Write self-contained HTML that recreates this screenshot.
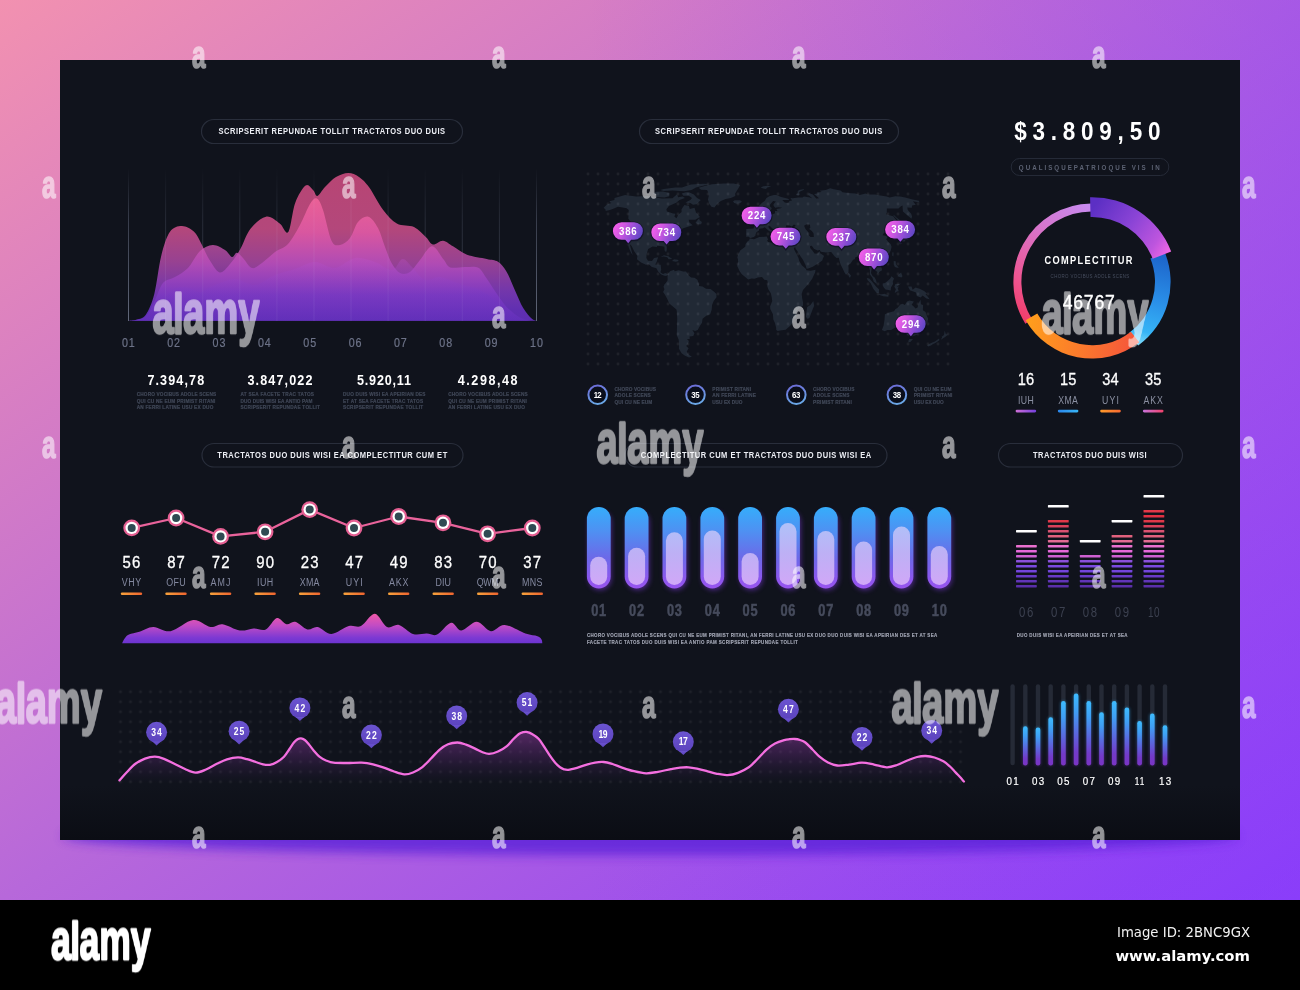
<!DOCTYPE html>
<html lang="en"><head><meta charset="utf-8"><title>Dashboard infographic</title>
<style>
html,body{margin:0;padding:0;background:#000}
body{width:1300px;height:990px;overflow:hidden;position:relative;font-family:"Liberation Sans",sans-serif}
#bg{position:absolute;left:0;top:0;width:1300px;height:900px;background:linear-gradient(to right,rgba(138,61,250,0) 45%,rgba(138,61,250,0.36) 100%),linear-gradient(to bottom right,#f291b0 0%,#b768da 50%,#8a3dfa 100%)}
#foot{position:absolute;left:0;top:900px;width:1300px;height:90px;background:#000}
svg{position:absolute;left:0;top:0;will-change:transform;font-family:"Liberation Sans",sans-serif}
svg text{white-space:pre}
</style></head><body>
<div id="bg"></div><div id="foot"></div>
<svg width="1300" height="990" viewBox="0 0 1300 990">
<!-- defs -->
<defs>
<filter id="blur8" x="-10%" y="-200%" width="120%" height="500%"><feGaussianBlur stdDeviation="5.5"/></filter>
<linearGradient id="panelg" x1="0" y1="0" x2="0" y2="1"><stop offset="0" stop-color="#10131c"/><stop offset="0.93" stop-color="#10131c"/><stop offset="1" stop-color="#0b0d14"/></linearGradient>
</defs>
<!-- panel -->
<ellipse cx="650" cy="836" rx="588" ry="19" fill="#5a24d8" opacity="0.8" filter="url(#blur8)"/>
<rect x="60" y="60" width="1180" height="780" fill="url(#panelg)"/>
<!-- pills -->
<rect x="201.5" y="119.5" width="261.0" height="24.0" rx="12.5" fill="none" stroke="#292e3b" stroke-width="1.2"/>
<text transform="translate(218.50 134.30) scale(0.8000 1)" font-size="9.4" fill="#eceef4" font-weight="bold" letter-spacing="0.658">SCRIPSERIT REPUNDAE TOLLIT TRACTATOS DUO DUIS</text>
<rect x="639.5" y="119.5" width="259.0" height="24.0" rx="12.5" fill="none" stroke="#292e3b" stroke-width="1.2"/>
<text transform="translate(655.00 134.30) scale(0.8000 1)" font-size="9.4" fill="#eceef4" font-weight="bold" letter-spacing="0.675">SCRIPSERIT REPUNDAE TOLLIT TRACTATOS DUO DUIS</text>
<rect x="202.0" y="443.5" width="261.0" height="23.5" rx="12.2" fill="none" stroke="#292e3b" stroke-width="1.2"/>
<text transform="translate(217.30 458.05) scale(0.8000 1)" font-size="9.4" fill="#eceef4" font-weight="bold" letter-spacing="0.635">TRACTATOS DUO DUIS WISI EA COMPLECTITUR CUM ET</text>
<rect x="625.0" y="443.5" width="262.0" height="23.5" rx="12.2" fill="none" stroke="#292e3b" stroke-width="1.2"/>
<text transform="translate(640.80 458.05) scale(0.8000 1)" font-size="9.4" fill="#eceef4" font-weight="bold" letter-spacing="0.641">COMPLECTITUR CUM ET TRACTATOS DUO DUIS WISI EA</text>
<rect x="998.5" y="443.5" width="184.0" height="23.5" rx="12.2" fill="none" stroke="#292e3b" stroke-width="1.2"/>
<text transform="translate(1033.00 458.05) scale(0.8000 1)" font-size="9.4" fill="#eceef4" font-weight="bold" letter-spacing="0.650">TRACTATOS DUO DUIS WISI</text>

<!-- chart1 -->
<defs>
<linearGradient id="c1a" gradientUnits="userSpaceOnUse" x1="0" y1="172" x2="0" y2="321"><stop offset="0" stop-color="#c4497a"/><stop offset="0.38" stop-color="#c04b82"/><stop offset="0.6" stop-color="#a2459a"/><stop offset="0.8" stop-color="#7a39b6"/><stop offset="0.93" stop-color="#6631bd"/><stop offset="1" stop-color="#6330bb"/></linearGradient>
<linearGradient id="c1b" gradientUnits="userSpaceOnUse" x1="0" y1="195" x2="0" y2="321"><stop offset="0" stop-color="#ff6ba0"/><stop offset="0.3" stop-color="#e65cac"/><stop offset="0.55" stop-color="#b84ec0"/><stop offset="0.8" stop-color="#7e3ac6"/><stop offset="1" stop-color="#6330bb"/></linearGradient>
<linearGradient id="c1c" gradientUnits="userSpaceOnUse" x1="0" y1="255" x2="0" y2="321"><stop offset="0" stop-color="#c455c8"/><stop offset="0.6" stop-color="#7638c3"/><stop offset="1" stop-color="#6330bb"/></linearGradient>
<linearGradient id="vl" gradientUnits="userSpaceOnUse" x1="0" y1="168" x2="0" y2="321"><stop offset="0" stop-color="#596073" stop-opacity="0"/><stop offset="0.35" stop-color="#596073" stop-opacity="0.55"/><stop offset="1" stop-color="#6b7285" stop-opacity="0.9"/></linearGradient>
</defs>
<rect x="128.0" y="168" width="1" height="153" fill="url(#vl)" opacity="1.00"/><rect x="165.1" y="168" width="1" height="153" fill="url(#vl)" opacity="0.55"/><rect x="202.2" y="168" width="1" height="153" fill="url(#vl)" opacity="0.55"/><rect x="239.3" y="168" width="1" height="153" fill="url(#vl)" opacity="0.55"/><rect x="276.4" y="168" width="1" height="153" fill="url(#vl)" opacity="0.55"/><rect x="313.5" y="168" width="1" height="153" fill="url(#vl)" opacity="0.55"/><rect x="350.5" y="168" width="1" height="153" fill="url(#vl)" opacity="0.55"/><rect x="387.6" y="168" width="1" height="153" fill="url(#vl)" opacity="0.55"/><rect x="424.7" y="168" width="1" height="153" fill="url(#vl)" opacity="0.55"/><rect x="461.8" y="168" width="1" height="153" fill="url(#vl)" opacity="0.55"/><rect x="498.9" y="168" width="1" height="153" fill="url(#vl)" opacity="0.55"/><rect x="536.0" y="168" width="1" height="153" fill="url(#vl)" opacity="1.00"/>
<path d="M128.5,320.8C130.1,320.6 135.1,320.4 138.0,319.3C140.9,318.2 143.3,318.7 146.0,314.5C148.7,310.3 151.8,303.8 154.3,294.0C156.8,284.2 158.6,266.3 161.2,256.0C163.8,245.7 166.4,237.0 169.8,232.0C173.2,227.0 177.8,226.1 181.8,226.0C185.8,225.9 190.7,228.8 193.8,231.5C197.0,234.2 198.1,237.7 200.7,242.4C203.3,247.1 206.2,254.6 209.3,259.6C212.5,264.6 216.2,271.8 219.6,272.5C223.0,273.2 226.6,267.9 230.0,264.0C233.4,260.1 236.8,255.2 240.2,249.3C243.6,243.4 246.2,234.1 250.5,228.7C254.8,223.3 261.1,217.6 266.0,216.7C270.9,215.8 276.0,220.9 279.7,223.5C283.4,226.1 285.7,235.4 288.3,232.0C290.9,228.6 292.3,210.7 295.2,203.0C298.1,195.3 302.6,187.8 305.6,185.6C308.6,183.4 311.0,188.3 313.0,190.0C315.0,191.7 315.4,196.5 317.4,196.0C319.4,195.5 321.9,190.2 325.0,187.0C328.1,183.8 332.1,179.3 336.0,177.0C339.9,174.7 344.5,173.0 348.3,173.0C352.1,173.0 355.5,174.6 359.0,177.0C362.5,179.4 365.3,182.0 369.3,187.5C373.3,193.0 378.4,203.8 383.0,209.8C387.6,215.8 391.6,220.6 396.8,223.5C402.0,226.4 409.1,224.7 414.0,227.0C418.9,229.3 422.9,234.4 426.0,237.3C429.1,240.2 430.0,243.9 432.8,244.5C435.6,245.1 439.6,240.4 443.0,240.7C446.4,241.0 449.0,244.0 453.0,246.3C457.0,248.7 461.4,252.7 467.0,254.8C472.6,256.9 481.5,257.8 486.7,259.0C491.9,260.2 494.7,259.7 498.0,261.8C501.3,263.9 503.6,266.9 506.4,271.6C509.2,276.3 512.0,283.8 514.8,289.9C517.6,296.0 520.4,303.3 523.2,308.1C526.0,312.9 529.4,316.5 531.6,318.6C533.8,320.7 535.7,320.4 536.5,320.8Z" fill="url(#c1a)" opacity="0.93"/>
<path d="M128.5,320.8C131.2,320.2 140.6,320.5 145.0,317.0C149.4,313.5 152.0,305.7 155.0,300.0C158.0,294.3 159.7,286.8 163.0,283.0C166.3,279.2 170.8,279.5 175.0,277.0C179.2,274.5 183.8,272.3 188.0,268.0C192.2,263.7 195.9,254.8 200.0,251.0C204.1,247.2 208.5,245.2 212.7,245.0C216.9,244.8 221.8,248.0 225.0,250.0C228.2,252.0 230.0,256.6 232.0,257.0C234.0,257.4 235.0,252.5 236.8,252.7C238.6,252.9 240.5,255.4 243.0,258.0C245.5,260.6 248.8,267.2 252.0,268.0C255.2,268.8 258.2,265.7 262.0,263.0C265.8,260.3 270.7,255.2 275.0,252.0C279.3,248.8 283.8,248.5 288.0,244.0C292.2,239.5 296.3,231.7 300.0,225.0C303.7,218.3 307.2,208.4 310.0,204.0C312.8,199.6 314.7,197.6 316.9,198.6C319.1,199.6 320.6,203.0 323.0,210.0C325.4,217.0 328.7,234.9 331.5,240.7C334.3,246.5 336.9,245.4 340.0,245.0C343.1,244.6 347.0,241.8 350.0,238.0C353.0,234.2 354.9,225.6 358.0,222.0C361.1,218.4 365.1,215.7 368.4,216.7C371.7,217.7 375.2,222.9 378.0,228.0C380.8,233.1 382.7,241.2 385.0,247.0C387.3,252.8 389.1,258.7 391.6,263.0C394.1,267.3 396.9,271.5 400.0,273.0C403.1,274.5 406.7,274.2 410.0,272.0C413.3,269.8 416.3,264.3 420.0,260.0C423.7,255.7 428.1,246.5 432.0,246.3C435.9,246.1 440.2,255.5 443.2,259.0C446.2,262.5 446.6,266.1 450.2,267.4C453.8,268.7 460.3,266.9 465.0,267.0C469.7,267.1 474.7,265.9 478.3,267.8C481.9,269.7 483.9,274.7 486.7,278.6C489.5,282.5 491.8,286.6 495.1,291.3C498.4,296.0 502.2,302.2 506.4,306.7C510.6,311.1 516.2,315.6 520.4,318.0C524.6,320.4 529.7,320.3 531.6,320.8Z" fill="url(#c1b)" opacity="0.74"/>
<path d="M128.5,320.8C132.1,320.2 144.4,320.1 150.0,317.0C155.6,313.9 158.3,306.5 162.0,302.0C165.7,297.5 168.2,292.5 172.0,290.0C175.8,287.5 180.3,286.7 185.0,287.0C189.7,287.3 195.0,292.3 200.0,292.0C205.0,291.7 209.2,287.2 215.0,285.0C220.8,282.8 228.3,279.0 235.0,279.0C241.7,279.0 248.3,285.7 255.0,285.0C261.7,284.3 268.3,277.7 275.0,275.0C281.7,272.3 288.3,271.2 295.0,269.0C301.7,266.8 308.3,262.2 315.0,262.0C321.7,261.8 328.3,268.7 335.0,268.0C341.7,267.3 348.3,259.0 355.0,258.0C361.7,257.0 368.8,260.0 375.0,262.0C381.2,264.0 387.4,270.5 392.0,270.0C396.6,269.5 399.2,259.5 402.5,259.0C405.8,258.5 408.2,263.5 412.0,267.0C415.8,270.5 420.3,278.3 425.0,280.0C429.7,281.7 434.2,276.3 440.0,277.0C445.8,277.7 453.3,281.8 460.0,284.0C466.7,286.2 474.2,287.3 480.0,290.0C485.8,292.7 490.0,296.3 495.0,300.0C500.0,303.7 505.0,308.8 510.0,312.0C515.0,315.2 520.6,317.5 525.0,319.0C529.4,320.5 534.6,320.5 536.5,320.8Z" fill="url(#c1c)" opacity="0.32"/>
<clipPath id="c1clip"><path d="M128.5,320.8C130.1,320.6 135.1,320.4 138.0,319.3C140.9,318.2 143.3,318.7 146.0,314.5C148.7,310.3 151.8,303.8 154.3,294.0C156.8,284.2 158.6,266.3 161.2,256.0C163.8,245.7 166.4,237.0 169.8,232.0C173.2,227.0 177.8,226.1 181.8,226.0C185.8,225.9 190.7,228.8 193.8,231.5C197.0,234.2 198.1,237.7 200.7,242.4C203.3,247.1 206.2,254.6 209.3,259.6C212.5,264.6 216.2,271.8 219.6,272.5C223.0,273.2 226.6,267.9 230.0,264.0C233.4,260.1 236.8,255.2 240.2,249.3C243.6,243.4 246.2,234.1 250.5,228.7C254.8,223.3 261.1,217.6 266.0,216.7C270.9,215.8 276.0,220.9 279.7,223.5C283.4,226.1 285.7,235.4 288.3,232.0C290.9,228.6 292.3,210.7 295.2,203.0C298.1,195.3 302.6,187.8 305.6,185.6C308.6,183.4 311.0,188.3 313.0,190.0C315.0,191.7 315.4,196.5 317.4,196.0C319.4,195.5 321.9,190.2 325.0,187.0C328.1,183.8 332.1,179.3 336.0,177.0C339.9,174.7 344.5,173.0 348.3,173.0C352.1,173.0 355.5,174.6 359.0,177.0C362.5,179.4 365.3,182.0 369.3,187.5C373.3,193.0 378.4,203.8 383.0,209.8C387.6,215.8 391.6,220.6 396.8,223.5C402.0,226.4 409.1,224.7 414.0,227.0C418.9,229.3 422.9,234.4 426.0,237.3C429.1,240.2 430.0,243.9 432.8,244.5C435.6,245.1 439.6,240.4 443.0,240.7C446.4,241.0 449.0,244.0 453.0,246.3C457.0,248.7 461.4,252.7 467.0,254.8C472.6,256.9 481.5,257.8 486.7,259.0C491.9,260.2 494.7,259.7 498.0,261.8C501.3,263.9 503.6,266.9 506.4,271.6C509.2,276.3 512.0,283.8 514.8,289.9C517.6,296.0 520.4,303.3 523.2,308.1C526.0,312.9 529.4,316.5 531.6,318.6C533.8,320.7 535.7,320.4 536.5,320.8Z"/></clipPath><g clip-path="url(#c1clip)"><rect x="165.1" y="172" width="1" height="149" fill="#d8dcf0" opacity="0.075"/><rect x="202.2" y="172" width="1" height="149" fill="#d8dcf0" opacity="0.075"/><rect x="239.3" y="172" width="1" height="149" fill="#d8dcf0" opacity="0.075"/><rect x="276.4" y="172" width="1" height="149" fill="#d8dcf0" opacity="0.075"/><rect x="313.5" y="172" width="1" height="149" fill="#d8dcf0" opacity="0.075"/><rect x="350.5" y="172" width="1" height="149" fill="#d8dcf0" opacity="0.075"/><rect x="387.6" y="172" width="1" height="149" fill="#d8dcf0" opacity="0.075"/><rect x="424.7" y="172" width="1" height="149" fill="#d8dcf0" opacity="0.075"/><rect x="461.8" y="172" width="1" height="149" fill="#d8dcf0" opacity="0.075"/><rect x="498.9" y="172" width="1" height="149" fill="#d8dcf0" opacity="0.075"/></g>
<text transform="translate(121.90 347.30) scale(0.8800 1)" font-size="12.2" fill="#6d7388" letter-spacing="0.975" stroke="#6d7388" stroke-width="0.2">01</text><text transform="translate(167.25 347.30) scale(0.8800 1)" font-size="12.2" fill="#6d7388" letter-spacing="0.975" stroke="#6d7388" stroke-width="0.2">02</text><text transform="translate(212.60 347.30) scale(0.8800 1)" font-size="12.2" fill="#6d7388" letter-spacing="0.975" stroke="#6d7388" stroke-width="0.2">03</text><text transform="translate(257.95 347.30) scale(0.8800 1)" font-size="12.2" fill="#6d7388" letter-spacing="0.975" stroke="#6d7388" stroke-width="0.2">04</text><text transform="translate(303.30 347.30) scale(0.8800 1)" font-size="12.2" fill="#6d7388" letter-spacing="0.975" stroke="#6d7388" stroke-width="0.2">05</text><text transform="translate(348.65 347.30) scale(0.8800 1)" font-size="12.2" fill="#6d7388" letter-spacing="0.975" stroke="#6d7388" stroke-width="0.2">06</text><text transform="translate(394.00 347.30) scale(0.8800 1)" font-size="12.2" fill="#6d7388" letter-spacing="0.975" stroke="#6d7388" stroke-width="0.2">07</text><text transform="translate(439.35 347.30) scale(0.8800 1)" font-size="12.2" fill="#6d7388" letter-spacing="0.975" stroke="#6d7388" stroke-width="0.2">08</text><text transform="translate(484.70 347.30) scale(0.8800 1)" font-size="12.2" fill="#6d7388" letter-spacing="0.975" stroke="#6d7388" stroke-width="0.2">09</text><text transform="translate(530.05 347.30) scale(0.8800 1)" font-size="12.2" fill="#6d7388" letter-spacing="0.975" stroke="#6d7388" stroke-width="0.2">10</text>
<text transform="translate(147.40 384.80) scale(0.9000 1)" font-size="14.0" fill="#ffffff" font-weight="bold" letter-spacing="1.231">7.394,78</text><text transform="translate(136.70 396.30) scale(0.8000 1)" font-size="5.9" fill="#414858" font-weight="bold" letter-spacing="0.208" stroke="#414858" stroke-width="0.22">CHORO VOCIBUS ADOLE SCENS</text><text transform="translate(136.70 402.85) scale(0.8000 1)" font-size="5.9" fill="#414858" font-weight="bold" letter-spacing="0.258" stroke="#414858" stroke-width="0.22">QUI CU NE EUM PRIMIST RITANI</text><text transform="translate(136.70 409.40) scale(0.8000 1)" font-size="5.9" fill="#414858" font-weight="bold" letter-spacing="0.291" stroke="#414858" stroke-width="0.22">AN FERRI LATINE USU EX DUO</text>
<text transform="translate(247.50 384.80) scale(0.9000 1)" font-size="14.0" fill="#ffffff" font-weight="bold" letter-spacing="1.242">3.847,022</text><text transform="translate(240.50 396.30) scale(0.8000 1)" font-size="5.9" fill="#414858" font-weight="bold" letter-spacing="0.328" stroke="#414858" stroke-width="0.22">AT SEA FACETE TRAC TATOS</text><text transform="translate(240.50 402.85) scale(0.8000 1)" font-size="5.9" fill="#414858" font-weight="bold" letter-spacing="0.121" stroke="#414858" stroke-width="0.22">DUO DUIS WISI EA ANTIO PAM</text><text transform="translate(240.50 409.40) scale(0.8000 1)" font-size="5.9" fill="#414858" font-weight="bold" letter-spacing="0.287" stroke="#414858" stroke-width="0.22">SCRIPSERIT REPUNDAE TOLLIT</text>
<text transform="translate(357.00 384.80) scale(0.9000 1)" font-size="14.0" fill="#ffffff" font-weight="bold" letter-spacing="0.896">5.920,11</text><text transform="translate(343.00 396.30) scale(0.8000 1)" font-size="5.9" fill="#414858" font-weight="bold" letter-spacing="0.254" stroke="#414858" stroke-width="0.22">DUO DUIS WISI EA APEIRIAN DES</text><text transform="translate(343.00 402.85) scale(0.8000 1)" font-size="5.9" fill="#414858" font-weight="bold" letter-spacing="0.263" stroke="#414858" stroke-width="0.22">ET AT SEA FACETE TRAC TATOS</text><text transform="translate(343.00 409.40) scale(0.8000 1)" font-size="5.9" fill="#414858" font-weight="bold" letter-spacing="0.322" stroke="#414858" stroke-width="0.22">SCRIPSERIT REPUNDAE TOLLIT</text>
<text transform="translate(457.70 384.80) scale(0.9000 1)" font-size="14.0" fill="#ffffff" font-weight="bold" letter-spacing="1.738">4.298,48</text><text transform="translate(448.20 396.30) scale(0.8000 1)" font-size="5.9" fill="#414858" font-weight="bold" letter-spacing="0.208" stroke="#414858" stroke-width="0.22">CHORO VOCIBUS ADOLE SCENS</text><text transform="translate(448.20 402.85) scale(0.8000 1)" font-size="5.9" fill="#414858" font-weight="bold" letter-spacing="0.258" stroke="#414858" stroke-width="0.22">QUI CU NE EUM PRIMIST RITANI</text><text transform="translate(448.20 409.40) scale(0.8000 1)" font-size="5.9" fill="#414858" font-weight="bold" letter-spacing="0.291" stroke="#414858" stroke-width="0.22">AN FERRI LATINE USU EX DUO</text>

<!-- worldmap -->
<g fill="#212935"><path d="M609.5,201.2L614.4,200.1L614.5,198.1L625.1,194.9L636.2,196.4L647.5,196.0L655.2,197.5L662.0,198.4L672.4,198.2L677.1,194.3L678.1,197.3L682.7,196.6L684.9,197.9L679.6,200.1L676.2,202.8L668.9,205.9L666.4,209.2L667.0,211.4L673.1,213.4L675.5,213.8L674.4,216.6L676.4,218.2L678.6,214.4L681.6,212.0L681.5,209.2L684.4,205.0L688.9,205.9L689.8,208.9L694.5,207.7L696.0,212.6L700.0,216.9L695.2,219.8L688.7,219.8L689.4,222.4L692.8,225.2L687.1,227.1L682.6,228.4L681.5,230.6L677.3,232.3L674.7,236.2L673.4,239.5L669.5,242.1L666.8,244.7L666.8,250.0L666.1,252.2L664.6,250.6L664.4,246.7L662.0,246.3L657.1,245.8L656.9,247.1L652.6,246.4L648.2,248.9L646.6,253.9L646.4,257.9L648.0,260.7L652.0,261.0L654.1,257.9L658.1,257.2L656.7,261.8L655.2,264.5L660.7,264.7L661.2,269.7L660.4,272.3L663.0,273.9L665.3,272.9L667.8,274.3L666.3,276.0L664.3,275.8L661.2,274.6L658.1,271.6L656.4,268.3L651.9,267.0L648.8,264.2L645.9,264.7L641.0,262.4L636.9,259.2L637.4,255.9L634.2,251.3L631.6,246.1L629.7,244.1L630.7,247.4L632.2,253.3L632.6,255.2L630.7,252.0L628.9,248.0L627.6,242.8L624.7,240.2L624.4,236.9L624.2,232.3L628.0,225.2L630.8,222.0L628.3,218.8L628.5,214.4L628.7,210.1L626.6,208.3L621.1,207.3L618.0,206.8L613.9,208.6L610.0,210.1L605.7,211.1L605.5,209.4L603.6,207.7L606.6,204.8L611.4,203.0L610.0,202.3ZM698.7,187.8L705.4,185.7L712.0,184.3L723.5,183.5L733.7,183.5L740.3,184.9L738.6,188.0L736.7,190.9L735.2,193.5L735.3,195.9L730.9,198.1L725.6,199.0L720.9,201.0L717.6,203.6L714.4,207.5L711.4,206.8L709.2,203.6L707.9,199.6L708.7,196.2L708.5,193.0L707.0,189.9L701.0,189.7ZM689.7,192.5L693.9,194.6L697.1,197.9L700.8,200.0L696.4,204.2L693.0,204.8L690.3,203.0L685.3,202.4L690.4,200.1L692.0,197.9L688.7,195.7L683.4,195.7L681.7,193.5L685.9,192.3ZM652.8,193.5L656.0,191.7L663.0,191.4L669.4,193.0L669.3,196.2L664.5,197.5L656.5,197.0L656.1,194.9ZM679.1,190.9L684.3,191.3L691.6,189.9L696.0,187.5L704.1,185.4L709.4,184.1L702.9,183.7L691.0,184.5L686.9,185.7L682.0,187.5L675.3,187.5L663.8,188.9L660.2,189.9L663.6,190.9L672.7,190.4ZM695.4,223.0L698.2,224.2L701.2,224.3L701.9,222.0L699.6,220.3L699.2,218.2L697.0,220.7ZM660.7,256.7L664.0,255.2L668.4,256.2L672.3,259.0L668.6,259.3L667.2,257.2L663.8,256.5ZM672.0,261.1L674.0,259.3L677.7,259.7L678.8,261.1L675.8,261.8ZM733.0,201.2L734.9,200.2L740.1,200.2L742.0,201.8L739.9,203.2L736.8,203.7L734.2,203.0ZM667.8,274.3L670.0,271.2L674.1,269.7L674.6,271.2L678.7,270.3L683.2,271.6L686.1,271.6L688.2,274.9L691.1,277.5L694.5,277.8L697.4,279.8L699.0,284.1L699.0,286.1L702.5,286.4L706.0,288.8L710.6,289.1L714.1,291.7L716.4,293.9L716.5,297.2L713.7,301.1L712.1,305.1L711.7,309.7L710.2,314.3L706.3,315.8L702.6,318.8L702.0,322.8L699.9,326.1L697.7,330.0L695.1,331.0L692.4,330.0L694.4,333.3L693.3,335.9L689.6,336.5L689.7,339.1L687.0,339.1L688.9,341.1L687.8,344.3L686.2,346.0L688.6,348.2L686.8,351.4L687.7,353.9L691.9,356.7L689.0,357.4L685.0,355.7L681.6,353.2L678.9,348.8L679.0,344.3L678.7,339.8L676.8,335.2L676.9,330.0L677.0,324.7L677.2,318.2L676.8,311.6L676.4,309.4L673.4,307.0L669.3,303.5L667.0,298.5L664.8,294.6L663.1,292.0L664.4,289.3L663.5,286.7L664.4,284.4L665.8,283.0L667.6,280.2L667.5,276.5ZM749.7,238.4L754.0,239.2L759.3,237.1L766.8,236.5L768.1,239.5L767.1,240.8L768.3,241.9L772.7,243.0L777.9,245.5L778.4,242.8L781.5,242.8L783.8,244.0L788.4,244.9L791.6,244.3L794.1,244.5L795.1,246.7L793.8,248.7L796.5,253.9L798.5,257.9L799.3,261.1L801.8,265.3L806.0,269.0L806.4,270.3L810.7,270.7L815.5,269.8L815.2,272.3L812.2,278.8L809.9,282.1L805.9,286.7L803.0,290.0L801.7,293.9L802.2,298.5L803.1,302.5L803.0,305.7L798.8,308.7L796.3,311.6L796.5,316.9L793.5,319.2L792.9,322.8L790.0,326.1L785.7,329.7L780.2,330.4L777.7,331.0L776.2,330.0L776.1,327.4L774.8,322.8L773.3,319.5L772.9,314.3L770.3,309.0L770.1,306.4L772.2,301.1L771.7,297.2L770.8,293.3L768.3,289.3L767.2,286.1L767.8,282.8L767.2,280.2L764.3,279.8L762.0,277.1L757.9,277.5L754.5,278.8L751.6,278.6L748.1,279.6L745.2,277.1L741.8,274.3L739.5,271.0L737.2,266.1L738.1,261.8L737.9,259.2L737.3,257.2L738.5,253.9L740.2,250.6L742.5,248.7L745.2,246.7L745.6,244.1L747.4,241.5L749.1,240.2ZM813.3,301.1L814.2,305.7L812.8,309.0L810.5,314.9L809.3,318.2L807.0,318.8L805.8,316.2L806.5,311.6L807.2,307.0L810.4,305.1L812.3,302.5ZM746.1,234.7L746.3,229.1L753.6,228.4L754.2,225.2L750.8,222.4L753.8,221.7L756.7,219.1L759.1,217.6L760.4,215.9L763.3,215.3L762.6,212.0L764.6,210.8L764.5,213.8L766.6,214.8L768.6,215.1L772.8,214.3L775.0,213.2L775.0,211.0L777.4,211.0L776.4,208.9L780.5,208.3L782.2,207.7L778.4,207.3L775.2,207.7L773.7,205.9L773.5,204.2L775.9,201.6L773.1,200.9L770.0,204.8L770.2,206.8L771.8,207.9L770.4,211.4L768.7,212.6L767.2,213.2L764.9,209.5L763.1,209.9L759.7,209.2L758.9,205.9L761.3,203.6L764.8,200.7L766.4,197.9L769.3,196.2L773.9,195.1L776.4,195.1L779.3,196.2L781.2,196.9L788.2,198.7L789.3,200.1L784.1,200.1L782.3,199.9L784.8,202.4L787.4,203.0L789.3,202.2L789.2,200.9L792.0,200.5L790.4,197.9L792.7,198.2L798.3,197.5L802.5,197.5L803.9,196.4L810.1,197.5L812.2,198.2L808.4,195.1L808.8,193.0L812.9,194.6L816.2,198.4L819.0,198.2L814.0,194.1L817.6,193.5L817.0,192.4L821.7,191.9L819.7,190.7L825.7,189.9L830.2,188.3L833.9,189.2L840.6,190.4L842.5,192.2L848.2,192.9L855.4,193.5L859.6,195.1L861.7,194.6L865.5,193.5L867.4,194.6L875.2,194.4L879.0,195.2L886.7,196.4L889.6,197.5L895.3,196.3L900.2,196.5L905.2,197.5L912.7,199.6L918.9,200.7L919.5,202.4L912.9,201.2L915.8,204.8L912.1,205.6L911.8,207.7L907.3,207.5L907.8,210.1L911.2,213.8L912.1,216.6L911.4,218.8L902.9,211.6L902.5,205.6L900.6,206.5L898.5,208.6L892.0,208.6L886.9,208.6L886.8,212.6L886.0,214.2L889.4,215.3L893.2,216.3L896.2,220.1L897.6,222.6L897.5,225.2L896.7,228.4L894.0,229.1L893.0,230.0L893.1,231.9L892.0,233.6L895.6,236.9L896.8,239.1L894.2,240.2L892.3,236.2L890.1,235.2L889.3,233.2L885.9,234.3L885.2,231.9L883.1,234.0L882.7,235.3L885.6,235.8L888.1,236.6L886.2,239.2L888.4,242.1L890.6,244.1L891.6,246.7L890.8,250.6L889.3,253.3L887.4,255.2L884.8,256.3L881.7,257.5L879.1,257.1L877.6,258.5L876.9,260.5L879.1,263.8L881.6,267.7L882.1,270.3L879.5,271.8L877.6,273.9L877.4,272.0L874.7,269.9L872.3,267.8L871.5,269.4L871.0,272.9L872.6,276.0L874.7,277.5L876.1,280.2L876.9,283.4L876.1,283.6L873.7,281.6L872.4,277.8L869.9,274.5L869.9,270.3L868.3,265.1L867.3,263.1L865.7,264.4L864.3,264.2L863.9,260.9L860.7,257.2L859.3,255.8L857.2,256.8L855.1,257.6L854.8,259.2L853.1,259.8L850.6,263.6L848.3,265.1L848.6,268.3L848.5,271.9L846.0,274.8L844.5,272.5L842.5,268.3L840.6,264.4L839.4,260.5L838.8,257.7L836.5,258.1L834.5,256.2L832.3,253.5L831.2,252.1L825.9,252.5L820.8,251.8L819.8,250.0L817.4,250.5L813.9,248.8L811.8,245.8L810.1,246.1L810.2,248.0L812.4,250.6L814.5,253.4L817.3,253.7L819.6,251.3L820.2,253.3L822.9,255.0L824.1,256.0L822.9,258.6L822.3,260.5L819.5,262.4L816.3,264.4L812.8,266.8L808.3,268.6L806.6,268.7L805.5,265.1L802.9,259.8L800.6,256.5L798.3,252.6L795.7,248.7L795.1,246.7L794.1,244.5L794.6,242.1L795.2,238.4L795.2,237.3L791.8,237.9L789.1,237.8L786.3,237.3L785.3,235.8L784.0,233.9L784.5,232.3L783.4,231.9L781.3,231.9L780.9,232.7L780.0,232.4L780.5,234.3L781.8,235.6L781.0,237.5L779.5,237.1L778.5,234.9L776.6,232.3L776.3,230.4L772.4,228.4L770.1,226.2L768.5,225.8L768.7,227.8L770.5,229.7L772.7,230.6L775.5,232.8L773.5,232.3L774.2,234.3L773.2,235.6L772.6,233.0L771.2,232.1L769.0,231.0L766.7,229.1L764.7,227.3L763.0,228.3L759.1,228.8L759.0,230.6L756.4,232.3L755.6,234.3L755.5,235.6L753.9,237.1L750.3,238.1L749.2,237.3L748.1,236.6L746.4,236.9ZM749.8,220.1L752.2,219.3L756.6,218.6L756.7,216.7L755.3,216.3L754.7,214.4L753.3,213.2L752.8,210.5L751.4,210.5L751.8,209.3L749.9,209.4L749.0,211.4L749.6,213.2L751.8,214.1L752.1,215.8L750.6,216.1L750.9,217.6L750.0,217.9L751.7,218.3ZM745.3,217.8L749.0,217.3L749.1,214.7L747.8,213.4L746.7,214.4L745.3,215.1L745.7,216.3ZM900.0,244.3L901.7,244.1L900.8,241.5L904.6,241.5L905.5,239.9L908.4,239.5L908.8,238.2L907.1,234.9L907.2,233.2L905.3,231.1L904.4,232.1L905.9,234.9L904.5,236.9L903.9,237.1L903.8,238.6L900.7,238.8L899.2,240.4L898.6,241.5L898.7,242.5ZM904.0,231.0L903.9,229.6L906.7,230.4L907.8,228.7L905.9,227.8L902.1,225.8L903.7,228.7L902.5,229.1ZM901.6,225.2L902.4,224.2L899.7,221.4L901.0,221.1L896.5,217.6L893.7,214.7L893.6,215.7L897.7,220.1L899.7,222.6ZM892.2,255.5L893.4,256.5L893.6,252.6L892.4,252.3ZM880.1,260.2L882.4,261.5L882.6,259.4L880.9,259.2ZM848.5,272.7L851.0,275.6L850.2,277.5L849.0,277.3L848.5,274.9ZM866.7,278.1L869.3,278.6L872.8,282.4L876.3,286.7L879.2,289.6L878.8,293.0L876.7,292.9L873.4,289.1L870.8,283.4L867.6,280.2ZM878.1,294.3L881.8,294.2L884.5,293.8L888.6,295.6L888.3,296.8L883.4,296.2L879.5,295.1ZM882.7,283.4L885.0,283.0L887.2,281.2L890.0,278.8L891.6,276.2L894.1,278.6L892.8,281.5L893.1,284.1L891.0,287.6L890.7,290.6L888.4,290.0L885.5,289.6L883.8,287.4L882.7,285.4ZM894.6,292.6L895.9,289.3L894.3,286.7L895.4,284.1L898.9,284.1L901.2,283.4L898.9,285.0L896.6,286.6L899.2,286.7L897.7,288.0L898.7,291.3L897.0,291.6L895.8,292.6ZM893.7,261.1L895.7,261.3L896.0,264.4L898.8,267.7L897.1,267.7L894.9,267.0L893.7,264.4ZM897.4,276.2L898.9,274.3L901.1,272.5L902.5,276.2L901.5,277.5L899.7,276.9ZM908.1,286.4L911.6,286.4L912.6,289.7L915.6,287.6L919.6,288.8L924.1,291.0L926.9,293.3L925.6,294.6L927.2,295.9L929.7,299.2L926.4,298.5L922.6,295.5L920.7,297.5L916.8,295.9L916.0,292.6L912.6,291.2L910.3,290.6L909.2,289.1ZM884.9,314.3L884.5,319.5L883.6,325.4L881.9,330.0L884.7,331.3L887.4,330.0L891.2,330.0L894.8,327.8L898.5,327.0L901.3,326.7L903.4,328.4L903.8,331.0L907.4,328.7L906.1,332.0L906.8,334.6L909.6,336.3L912.4,336.5L917.4,334.6L920.1,331.3L923.9,328.0L927.3,322.8L928.2,318.8L926.7,315.6L925.6,312.0L922.9,310.3L923.1,305.1L921.0,304.2L920.5,299.6L919.0,302.5L917.5,307.4L915.6,308.4L913.2,306.1L911.7,304.8L913.9,301.4L909.4,300.5L907.0,301.5L904.8,305.1L902.7,303.8L900.3,304.4L897.4,308.1L895.5,309.0L894.0,311.2L889.2,312.5ZM909.3,338.9L913.0,338.9L910.7,341.7L908.6,342.5L908.3,341.1ZM944.6,330.6L945.3,332.6L945.8,333.9L947.9,334.8L944.8,337.2L940.8,339.8L942.1,337.6L941.7,336.8L944.0,335.0L944.4,332.4ZM939.1,338.6L939.4,340.2L935.8,342.8L932.7,344.3L931.0,345.6L928.2,346.4L927.1,345.3L931.1,343.0L934.8,341.5ZM760.7,187.5L763.3,186.2L767.4,185.8L771.3,186.5L767.3,187.5L766.0,189.1L763.2,188.5ZM795.7,195.1L798.7,195.4L799.9,194.1L797.3,191.9L798.9,189.9L804.2,189.1L803.6,190.1L800.1,191.4L798.8,193.0L797.5,193.5Z"/></g>
<g fill="#10131c"><path d="M804.1,225.8L806.7,224.2L809.9,224.6L810.3,227.8L809.1,229.1L811.8,231.0L813.6,233.6L813.8,236.9L810.6,236.9L808.5,234.9L808.4,232.3L805.5,229.1ZM785.5,228.4L786.4,225.2L789.5,225.5L791.8,226.5L794.0,224.6L795.8,225.8L794.1,227.1L797.0,228.7L799.5,230.6L796.1,231.7L792.6,230.4L788.6,231.4L786.5,231.3L785.3,230.4Z"/></g>

<!-- dotgrid_map -->
<defs><pattern id="dots" x="583" y="169" width="10" height="10" patternUnits="userSpaceOnUse"><circle cx="5" cy="5" r="1.4" fill="#ffffff" fill-opacity="0.062"/></pattern></defs>
<rect x="583" y="169" width="370" height="200" fill="url(#dots)"/>

<!-- mappins -->
<defs><linearGradient id="ping" x1="0" y1="0.35" x2="1" y2="0.65"><stop offset="0" stop-color="#f25fe9"/><stop offset="0.3" stop-color="#cf57e2"/><stop offset="0.65" stop-color="#8f4dd5"/><stop offset="1" stop-color="#5846c1"/></linearGradient><path id="pin" d="M-6.2,-8.8H6.2A8.8,8.8 0 0 1 6.2,8.8H3.2L0.3,12.2L-2.6,8.8H-6.2A8.8,8.8 0 0 1 -6.2,-8.8Z"/></defs>
<use href="#pin" x="627.9" y="231.4" fill="#0d0a20" fill-opacity="0.55" stroke="#0d0a20" stroke-opacity="0.55" stroke-width="2.2"/><g transform="translate(627.9 231.0)"><use href="#pin" fill="url(#ping)"/></g><text transform="translate(619.10 234.70) scale(0.9300 1)" font-size="10.4" fill="#ffffff" font-weight="bold" letter-spacing="0.786">386</text>
<use href="#pin" x="666.3" y="232.6" fill="#0d0a20" fill-opacity="0.55" stroke="#0d0a20" stroke-opacity="0.55" stroke-width="2.2"/><g transform="translate(666.3 232.2)"><use href="#pin" fill="url(#ping)"/></g><text transform="translate(657.50 235.90) scale(0.9300 1)" font-size="10.4" fill="#ffffff" font-weight="bold" letter-spacing="0.786">734</text>
<use href="#pin" x="756.6" y="215.9" fill="#0d0a20" fill-opacity="0.55" stroke="#0d0a20" stroke-opacity="0.55" stroke-width="2.2"/><g transform="translate(756.6 215.5)"><use href="#pin" fill="url(#ping)"/></g><text transform="translate(747.80 219.20) scale(0.9300 1)" font-size="10.4" fill="#ffffff" font-weight="bold" letter-spacing="0.786">224</text>
<use href="#pin" x="785.5" y="237.0" fill="#0d0a20" fill-opacity="0.55" stroke="#0d0a20" stroke-opacity="0.55" stroke-width="2.2"/><g transform="translate(785.5 236.6)"><use href="#pin" fill="url(#ping)"/></g><text transform="translate(776.70 240.30) scale(0.9300 1)" font-size="10.4" fill="#ffffff" font-weight="bold" letter-spacing="0.786">745</text>
<use href="#pin" x="841.3" y="237.3" fill="#0d0a20" fill-opacity="0.55" stroke="#0d0a20" stroke-opacity="0.55" stroke-width="2.2"/><g transform="translate(841.3 236.9)"><use href="#pin" fill="url(#ping)"/></g><text transform="translate(832.50 240.60) scale(0.9300 1)" font-size="10.4" fill="#ffffff" font-weight="bold" letter-spacing="0.786">237</text>
<use href="#pin" x="900.1" y="230.0" fill="#0d0a20" fill-opacity="0.55" stroke="#0d0a20" stroke-opacity="0.55" stroke-width="2.2"/><g transform="translate(900.1 229.6)"><use href="#pin" fill="url(#ping)"/></g><text transform="translate(891.30 233.30) scale(0.9300 1)" font-size="10.4" fill="#ffffff" font-weight="bold" letter-spacing="0.786">384</text>
<use href="#pin" x="873.8" y="257.7" fill="#0d0a20" fill-opacity="0.55" stroke="#0d0a20" stroke-opacity="0.55" stroke-width="2.2"/><g transform="translate(873.8 257.3)"><use href="#pin" fill="url(#ping)"/></g><text transform="translate(865.00 261.00) scale(0.9300 1)" font-size="10.4" fill="#ffffff" font-weight="bold" letter-spacing="0.786">870</text>
<use href="#pin" x="910.6" y="324.4" fill="#0d0a20" fill-opacity="0.55" stroke="#0d0a20" stroke-opacity="0.55" stroke-width="2.2"/><g transform="translate(910.6 324.0)"><use href="#pin" fill="url(#ping)"/></g><text transform="translate(901.80 327.70) scale(0.9300 1)" font-size="10.4" fill="#ffffff" font-weight="bold" letter-spacing="0.786">294</text>

<!-- maplegend -->
<defs><linearGradient id="lgc" x1="0" y1="0" x2="0.3" y2="1"><stop offset="0" stop-color="#6c68d6"/><stop offset="1" stop-color="#6aa6e6"/></linearGradient></defs>
<circle cx="597.7" cy="394.8" r="9.3" fill="#0a0e1b" stroke="url(#lgc)" stroke-width="2"/><text transform="translate(593.85 398.20) scale(0.8200 1)" font-size="9.6" fill="#ffffff" font-weight="bold" letter-spacing="-1.288">12</text><text transform="translate(614.50 390.60) scale(0.8000 1)" font-size="6.0" fill="#414858" font-weight="bold" letter-spacing="0.045" stroke="#414858" stroke-width="0.22">CHORO VOCIBUS</text><text transform="translate(614.50 397.10) scale(0.8000 1)" font-size="6.0" fill="#414858" font-weight="bold" letter-spacing="0.203" stroke="#414858" stroke-width="0.22">ADOLE SCENS</text><text transform="translate(614.50 403.60) scale(0.8000 1)" font-size="6.0" fill="#414858" font-weight="bold" letter-spacing="0.104" stroke="#414858" stroke-width="0.22">QUI CU NE EUM</text>
<circle cx="695.5" cy="394.8" r="9.3" fill="#0a0e1b" stroke="url(#lgc)" stroke-width="2"/><text transform="translate(691.30 398.20) scale(0.8200 1)" font-size="9.6" fill="#ffffff" font-weight="bold" letter-spacing="-0.435">35</text><text transform="translate(712.30 390.60) scale(0.8000 1)" font-size="6.0" fill="#414858" font-weight="bold" letter-spacing="0.227" stroke="#414858" stroke-width="0.22">PRIMIST RITANI</text><text transform="translate(712.30 397.10) scale(0.8000 1)" font-size="6.0" fill="#414858" font-weight="bold" letter-spacing="0.243" stroke="#414858" stroke-width="0.22">AN FERRI LATINE</text><text transform="translate(712.30 403.60) scale(0.8000 1)" font-size="6.0" fill="#414858" font-weight="bold" letter-spacing="0.046" stroke="#414858" stroke-width="0.22">USU EX DUO</text>
<circle cx="796.3" cy="394.8" r="9.3" fill="#0a0e1b" stroke="url(#lgc)" stroke-width="2"/><text transform="translate(792.10 398.20) scale(0.8200 1)" font-size="9.6" fill="#ffffff" font-weight="bold" letter-spacing="-0.435">63</text><text transform="translate(813.10 390.60) scale(0.8000 1)" font-size="6.0" fill="#414858" font-weight="bold" letter-spacing="0.045" stroke="#414858" stroke-width="0.22">CHORO VOCIBUS</text><text transform="translate(813.10 397.10) scale(0.8000 1)" font-size="6.0" fill="#414858" font-weight="bold" letter-spacing="0.203" stroke="#414858" stroke-width="0.22">ADOLE SCENS</text><text transform="translate(813.10 403.60) scale(0.8000 1)" font-size="6.0" fill="#414858" font-weight="bold" letter-spacing="0.227" stroke="#414858" stroke-width="0.22">PRIMIST RITANI</text>
<circle cx="896.9" cy="394.8" r="9.3" fill="#0a0e1b" stroke="url(#lgc)" stroke-width="2"/><text transform="translate(892.70 398.20) scale(0.8200 1)" font-size="9.6" fill="#ffffff" font-weight="bold" letter-spacing="-0.435">38</text><text transform="translate(913.70 390.60) scale(0.8000 1)" font-size="6.0" fill="#414858" font-weight="bold" letter-spacing="0.104" stroke="#414858" stroke-width="0.22">QUI CU NE EUM</text><text transform="translate(913.70 397.10) scale(0.8000 1)" font-size="6.0" fill="#414858" font-weight="bold" letter-spacing="0.227" stroke="#414858" stroke-width="0.22">PRIMIST RITANI</text><text transform="translate(913.70 403.60) scale(0.8000 1)" font-size="6.0" fill="#414858" font-weight="bold" letter-spacing="0.046" stroke="#414858" stroke-width="0.22">USU EX DUO</text>

<!-- money -->
<text transform="translate(1014.20 139.60) scale(0.9000 1)" font-size="25.0" fill="#ffffff" font-weight="bold" letter-spacing="6.417">$3.809,50</text>
<rect x="1011.2" y="158.5" width="157.6" height="17" rx="8.5" fill="none" stroke="#252a37" stroke-width="1"/>
<text transform="translate(1018.80 169.50) scale(0.8200 1)" font-size="7.6" fill="#5c6273" font-weight="bold" letter-spacing="2.443">QUALISQUEPATRIOQUE VIS IN</text>

<!-- donut -->
<defs>
<linearGradient id="dg1" gradientUnits="userSpaceOnUse" x1="1092" y1="203" x2="1020" y2="330"><stop offset="0" stop-color="#c68cf2"/><stop offset="0.35" stop-color="#d873c8"/><stop offset="0.7" stop-color="#ee5591"/><stop offset="1" stop-color="#f0365f"/></linearGradient>
<linearGradient id="dg2" gradientUnits="userSpaceOnUse" x1="1095" y1="205" x2="1168" y2="256"><stop offset="0" stop-color="#5c2fc4"/><stop offset="0.45" stop-color="#8b44d6"/><stop offset="0.8" stop-color="#bd55de"/><stop offset="1" stop-color="#f368e6"/></linearGradient>
<linearGradient id="dg3" gradientUnits="userSpaceOnUse" x1="1165" y1="255" x2="1140" y2="345"><stop offset="0" stop-color="#1c63c9"/><stop offset="0.5" stop-color="#2a8fe8"/><stop offset="0.85" stop-color="#36b4f6"/><stop offset="1" stop-color="#7fdcfb"/></linearGradient>
<linearGradient id="dg4" gradientUnits="userSpaceOnUse" x1="1138" y1="345" x2="1028" y2="325"><stop offset="0" stop-color="#f5533c"/><stop offset="0.5" stop-color="#fb7a2c"/><stop offset="1" stop-color="#ff9d1c"/></linearGradient>
</defs>
<path d="M1025.34,323.65 A78.60,78.60 0 0 1 1091.31,203.40 L1091.38,211.40 A70.60,70.60 0 0 0 1032.13,319.41 Z" fill="url(#dg1)"/>
<path d="M1164.88,252.56 A78.60,78.60 0 0 1 1138.20,345.59 L1129.03,332.97 A63.00,63.00 0 0 0 1150.41,258.40 Z" fill="url(#dg3)"/>
<path d="M1090.08,197.22 A84.80,84.80 0 0 1 1171.17,251.61 L1152.68,258.71 A65.00,65.00 0 0 0 1090.53,217.02 Z" fill="url(#dg2)"/>
<path d="M1139.16,342.36 A76.60,76.60 0 0 1 1025.66,320.30 L1037.27,313.60 A63.20,63.20 0 0 0 1130.91,331.80 Z" fill="url(#dg4)"/>
<text transform="translate(1044.60 264.00) scale(0.8400 1)" font-size="11.0" fill="#ffffff" font-weight="bold" letter-spacing="1.580">COMPLECTITUR</text>
<text transform="translate(1050.60 278.30) scale(0.8500 1)" font-size="5.2" fill="#474e5f" letter-spacing="0.431">CHORO VOCIBUS ADOLE SCENS</text>
<text transform="translate(1062.70 308.70) scale(0.9000 1)" font-size="19.6" fill="#ffffff" letter-spacing="0.874" stroke="#fff" stroke-width="0.35">46767</text>
<defs>
<linearGradient id="dl1"><stop offset="0" stop-color="#cf6fd6"/><stop offset="1" stop-color="#7440dc"/></linearGradient>
<linearGradient id="dl2"><stop offset="0" stop-color="#2a86ec"/><stop offset="1" stop-color="#38b6f6"/></linearGradient>
<linearGradient id="dl3"><stop offset="0" stop-color="#ff9a2a"/><stop offset="1" stop-color="#f76a32"/></linearGradient>
<linearGradient id="dl4"><stop offset="0" stop-color="#c874dc"/><stop offset="1" stop-color="#f2416a"/></linearGradient>
</defs>
<text transform="translate(1017.70 384.90) scale(0.8600 1)" font-size="17.0" fill="#ffffff" letter-spacing="0.160" stroke="#fff" stroke-width="0.3">16</text><text transform="translate(1017.90 403.60) scale(0.8400 1)" font-size="10.4" fill="#8b90a2" letter-spacing="0.568">IUH</text><rect x="1015.6" y="409.8" width="20.6" height="2.6" rx="1.3" fill="url(#dl1)"/>
<text transform="translate(1059.90 384.90) scale(0.8600 1)" font-size="17.0" fill="#ffffff" letter-spacing="0.160" stroke="#fff" stroke-width="0.3">15</text><text transform="translate(1058.35 403.60) scale(0.8400 1)" font-size="10.4" fill="#8b90a2" letter-spacing="0.338">XMA</text><rect x="1057.8" y="409.8" width="20.6" height="2.6" rx="1.3" fill="url(#dl2)"/>
<text transform="translate(1102.30 384.90) scale(0.8600 1)" font-size="17.0" fill="#ffffff" letter-spacing="0.160" stroke="#fff" stroke-width="0.3">34</text><text transform="translate(1102.00 403.60) scale(0.8400 1)" font-size="10.4" fill="#8b90a2" letter-spacing="1.450">UYI</text><rect x="1100.2" y="409.8" width="20.6" height="2.6" rx="1.3" fill="url(#dl3)"/>
<text transform="translate(1145.00 384.90) scale(0.8600 1)" font-size="17.0" fill="#ffffff" letter-spacing="0.160" stroke="#fff" stroke-width="0.3">35</text><text transform="translate(1143.45 403.60) scale(0.8400 1)" font-size="10.4" fill="#8b90a2" letter-spacing="1.201">AKX</text><rect x="1142.9" y="409.8" width="20.6" height="2.6" rx="1.3" fill="url(#dl4)"/>

<!-- linechart -->
<defs>
<linearGradient id="wv" gradientUnits="userSpaceOnUse" x1="0" y1="613" x2="0" y2="644"><stop offset="0" stop-color="#f45aa6"/><stop offset="0.4" stop-color="#c24cc4"/><stop offset="0.8" stop-color="#7c39d3"/><stop offset="1" stop-color="#6a33d0"/></linearGradient>
<linearGradient id="ob"><stop offset="0" stop-color="#f7a33c"/><stop offset="1" stop-color="#f0642f"/></linearGradient>
</defs>
<path d="M131.7,527.9L176.1,518.0L220.6,536.4L265.1,531.8L309.7,509.6L354.0,528.0L398.7,516.5L443.0,522.8L487.6,533.8L532.3,528.0" fill="none" stroke="#e9639b" stroke-width="2.3" stroke-linejoin="round"/>
<circle cx="131.7" cy="527.9" r="8.4" fill="#e45f92"/><circle cx="131.7" cy="527.9" r="6.2" fill="#fff"/><circle cx="131.7" cy="527.9" r="4.0" fill="#2f4a52"/><circle cx="176.1" cy="518.0" r="8.4" fill="#e45f92"/><circle cx="176.1" cy="518.0" r="6.2" fill="#fff"/><circle cx="176.1" cy="518.0" r="4.0" fill="#2f4a52"/><circle cx="220.6" cy="536.4" r="8.4" fill="#e45f92"/><circle cx="220.6" cy="536.4" r="6.2" fill="#fff"/><circle cx="220.6" cy="536.4" r="4.0" fill="#2f4a52"/><circle cx="265.1" cy="531.8" r="8.4" fill="#e45f92"/><circle cx="265.1" cy="531.8" r="6.2" fill="#fff"/><circle cx="265.1" cy="531.8" r="4.0" fill="#2f4a52"/><circle cx="309.7" cy="509.6" r="8.4" fill="#e45f92"/><circle cx="309.7" cy="509.6" r="6.2" fill="#fff"/><circle cx="309.7" cy="509.6" r="4.0" fill="#2f4a52"/><circle cx="354.0" cy="528.0" r="8.4" fill="#e45f92"/><circle cx="354.0" cy="528.0" r="6.2" fill="#fff"/><circle cx="354.0" cy="528.0" r="4.0" fill="#2f4a52"/><circle cx="398.7" cy="516.5" r="8.4" fill="#e45f92"/><circle cx="398.7" cy="516.5" r="6.2" fill="#fff"/><circle cx="398.7" cy="516.5" r="4.0" fill="#2f4a52"/><circle cx="443.0" cy="522.8" r="8.4" fill="#e45f92"/><circle cx="443.0" cy="522.8" r="6.2" fill="#fff"/><circle cx="443.0" cy="522.8" r="4.0" fill="#2f4a52"/><circle cx="487.6" cy="533.8" r="8.4" fill="#e45f92"/><circle cx="487.6" cy="533.8" r="6.2" fill="#fff"/><circle cx="487.6" cy="533.8" r="4.0" fill="#2f4a52"/><circle cx="532.3" cy="528.0" r="8.4" fill="#e45f92"/><circle cx="532.3" cy="528.0" r="6.2" fill="#fff"/><circle cx="532.3" cy="528.0" r="4.0" fill="#2f4a52"/>
<text transform="translate(122.60 567.70) scale(0.8800 1)" font-size="17.0" fill="#ffffff" letter-spacing="1.317" stroke="#fff" stroke-width="0.3">56</text><text transform="translate(121.75 586.20) scale(0.8400 1)" font-size="10.6" fill="#8489a0" letter-spacing="0.709">VHY</text><rect x="120.8" y="592.5" width="21.4" height="2.6" rx="1.3" fill="url(#ob)"/>
<text transform="translate(167.13 567.70) scale(0.8800 1)" font-size="17.0" fill="#ffffff" letter-spacing="1.317" stroke="#fff" stroke-width="0.3">87</text><text transform="translate(166.28 586.20) scale(0.8400 1)" font-size="10.6" fill="#8489a0" letter-spacing="0.420">OFU</text><rect x="165.3" y="592.5" width="21.4" height="2.6" rx="1.3" fill="url(#ob)"/>
<text transform="translate(211.66 567.70) scale(0.8800 1)" font-size="17.0" fill="#ffffff" letter-spacing="1.317" stroke="#fff" stroke-width="0.3">72</text><text transform="translate(210.56 586.20) scale(0.8400 1)" font-size="10.6" fill="#8489a0" letter-spacing="1.304">AMJ</text><rect x="209.9" y="592.5" width="21.4" height="2.6" rx="1.3" fill="url(#ob)"/>
<text transform="translate(256.19 567.70) scale(0.8800 1)" font-size="17.0" fill="#ffffff" letter-spacing="1.317" stroke="#fff" stroke-width="0.3">90</text><text transform="translate(257.09 586.20) scale(0.8400 1)" font-size="10.6" fill="#8489a0" letter-spacing="0.396">IUH</text><rect x="254.4" y="592.5" width="21.4" height="2.6" rx="1.3" fill="url(#ob)"/>
<text transform="translate(300.72 567.70) scale(0.8800 1)" font-size="17.0" fill="#ffffff" letter-spacing="1.317" stroke="#fff" stroke-width="0.3">23</text><text transform="translate(299.87 586.20) scale(0.8400 1)" font-size="10.6" fill="#8489a0" letter-spacing="0.121">XMA</text><rect x="298.9" y="592.5" width="21.4" height="2.6" rx="1.3" fill="url(#ob)"/>
<text transform="translate(345.25 567.70) scale(0.8800 1)" font-size="17.0" fill="#ffffff" letter-spacing="1.317" stroke="#fff" stroke-width="0.3">47</text><text transform="translate(345.65 586.20) scale(0.8400 1)" font-size="10.6" fill="#8489a0" letter-spacing="1.284">UYI</text><rect x="343.4" y="592.5" width="21.4" height="2.6" rx="1.3" fill="url(#ob)"/>
<text transform="translate(389.78 567.70) scale(0.8800 1)" font-size="17.0" fill="#ffffff" letter-spacing="1.317" stroke="#fff" stroke-width="0.3">49</text><text transform="translate(388.93 586.20) scale(0.8400 1)" font-size="10.6" fill="#8489a0" letter-spacing="1.001">AKX</text><rect x="388.0" y="592.5" width="21.4" height="2.6" rx="1.3" fill="url(#ob)"/>
<text transform="translate(434.31 567.70) scale(0.8800 1)" font-size="17.0" fill="#ffffff" letter-spacing="1.317" stroke="#fff" stroke-width="0.3">83</text><text transform="translate(435.46 586.20) scale(0.8400 1)" font-size="10.6" fill="#8489a0" letter-spacing="0.099">DIU</text><rect x="432.5" y="592.5" width="21.4" height="2.6" rx="1.3" fill="url(#ob)"/>
<text transform="translate(478.84 567.70) scale(0.8800 1)" font-size="17.0" fill="#ffffff" letter-spacing="1.317" stroke="#fff" stroke-width="0.3">70</text><text transform="translate(476.74 586.20) scale(0.8400 1)" font-size="10.6" fill="#8489a0" letter-spacing="-0.445">QWM</text><rect x="477.0" y="592.5" width="21.4" height="2.6" rx="1.3" fill="url(#ob)"/>
<text transform="translate(523.37 567.70) scale(0.8800 1)" font-size="17.0" fill="#ffffff" letter-spacing="1.317" stroke="#fff" stroke-width="0.3">37</text><text transform="translate(522.02 586.20) scale(0.8400 1)" font-size="10.6" fill="#8489a0" letter-spacing="0.424">MNS</text><rect x="521.6" y="592.5" width="21.4" height="2.6" rx="1.3" fill="url(#ob)"/>
<path d="M122.1,643.3C122.6,642.4 123.8,639.5 125.0,638.0C126.2,636.5 126.6,635.6 129.0,634.6C131.4,633.6 135.3,633.1 139.4,631.8C143.5,630.5 148.1,627.1 153.3,627.0C158.5,626.9 164.0,632.4 170.6,631.2C177.2,630.1 186.5,620.8 193.1,620.1C199.7,619.4 205.5,626.3 210.4,627.0C215.3,627.7 217.6,623.6 222.5,624.2C227.4,624.8 234.6,629.8 239.8,630.5C245.0,631.2 249.3,628.6 253.6,628.4C257.9,628.2 261.9,631.1 265.8,629.4C269.7,627.7 273.4,618.9 276.8,618.0C280.2,617.1 283.4,623.6 286.5,624.2C289.6,624.8 291.7,620.9 295.2,621.8C298.7,622.7 303.6,628.5 307.3,629.4C311.1,630.3 313.7,626.2 317.7,627.0C321.7,627.8 326.3,634.1 331.5,633.9C336.7,633.7 343.9,627.3 348.8,626.0C353.7,624.7 356.7,628.0 361.0,626.0C365.3,624.0 370.5,613.6 374.8,613.8C379.1,614.0 382.9,625.1 386.9,627.0C390.9,628.9 394.7,623.8 399.0,624.9C403.3,626.0 408.3,632.4 412.9,633.9C417.5,635.4 422.7,633.5 426.7,633.6C430.7,633.7 433.1,636.4 437.1,634.6C441.2,632.8 447.0,623.5 451.0,622.8C455.0,622.1 457.0,630.7 461.3,630.5C465.6,630.3 472.0,621.7 476.9,621.8C481.8,621.9 486.2,630.7 490.8,631.2C495.4,631.7 498.8,624.5 504.6,624.9C510.4,625.3 519.9,631.7 525.4,633.6C530.9,635.5 534.8,635.3 537.5,636.3C540.2,637.3 540.7,638.3 541.5,639.5C542.3,640.7 542.2,642.7 542.3,643.3Z" fill="url(#wv)"/>

<!-- capsules -->
<defs>
<linearGradient id="cp" gradientUnits="userSpaceOnUse" x1="0" y1="507" x2="0" y2="589"><stop offset="0" stop-color="#35adfb"/><stop offset="0.3" stop-color="#4f90f2"/><stop offset="0.62" stop-color="#6c69e8"/><stop offset="0.88" stop-color="#8c56ee"/><stop offset="1" stop-color="#9a55ef"/></linearGradient>
<linearGradient id="cpi" gradientUnits="userSpaceOnUse" x1="0" y1="520" x2="0" y2="586"><stop offset="0" stop-color="#b6c6f9"/><stop offset="0.5" stop-color="#c4b5f6"/><stop offset="1" stop-color="#d6aef8"/></linearGradient>
<filter id="cglow" x="-60%" y="-20%" width="220%" height="140%"><feGaussianBlur stdDeviation="2.6"/></filter>
</defs>
<rect x="588.5" y="511" width="23" height="79" rx="11.5" fill="#7a35d8" opacity="0.55" filter="url(#cglow)"/><rect x="586.9" y="506.9" width="23.8" height="81.6" rx="11.9" fill="url(#cp)"/><rect x="590.2" y="556.8" width="17" height="28.1" rx="8.5" fill="url(#cpi)" opacity="0.93"/><text transform="translate(591.25 616.10) scale(0.8000 1)" font-size="16.0" fill="#464b5c" font-weight="bold" letter-spacing="0.953" stroke="#464b5c" stroke-width="0.5">01</text>
<rect x="626.4" y="511" width="23" height="79" rx="11.5" fill="#7a35d8" opacity="0.55" filter="url(#cglow)"/><rect x="624.7" y="506.9" width="23.8" height="81.6" rx="11.9" fill="url(#cp)"/><rect x="628.1" y="547.8" width="17" height="37.1" rx="8.5" fill="url(#cpi)" opacity="0.93"/><text transform="translate(629.09 616.10) scale(0.8000 1)" font-size="16.0" fill="#464b5c" font-weight="bold" letter-spacing="0.953" stroke="#464b5c" stroke-width="0.5">02</text>
<rect x="664.2" y="511" width="23" height="79" rx="11.5" fill="#7a35d8" opacity="0.55" filter="url(#cglow)"/><rect x="662.5" y="506.9" width="23.8" height="81.6" rx="11.9" fill="url(#cp)"/><rect x="665.9" y="532.2" width="17" height="52.7" rx="8.5" fill="url(#cpi)" opacity="0.93"/><text transform="translate(666.93 616.10) scale(0.8000 1)" font-size="16.0" fill="#464b5c" font-weight="bold" letter-spacing="0.953" stroke="#464b5c" stroke-width="0.5">03</text>
<rect x="702.1" y="511" width="23" height="79" rx="11.5" fill="#7a35d8" opacity="0.55" filter="url(#cglow)"/><rect x="700.4" y="506.9" width="23.8" height="81.6" rx="11.9" fill="url(#cp)"/><rect x="703.8" y="530.6" width="17" height="54.3" rx="8.5" fill="url(#cpi)" opacity="0.93"/><text transform="translate(704.77 616.10) scale(0.8000 1)" font-size="16.0" fill="#464b5c" font-weight="bold" letter-spacing="0.953" stroke="#464b5c" stroke-width="0.5">04</text>
<rect x="739.9" y="511" width="23" height="79" rx="11.5" fill="#7a35d8" opacity="0.55" filter="url(#cglow)"/><rect x="738.2" y="506.9" width="23.8" height="81.6" rx="11.9" fill="url(#cp)"/><rect x="741.6" y="553.1" width="17" height="31.8" rx="8.5" fill="url(#cpi)" opacity="0.93"/><text transform="translate(742.61 616.10) scale(0.8000 1)" font-size="16.0" fill="#464b5c" font-weight="bold" letter-spacing="0.953" stroke="#464b5c" stroke-width="0.5">05</text>
<rect x="777.8" y="511" width="23" height="79" rx="11.5" fill="#7a35d8" opacity="0.55" filter="url(#cglow)"/><rect x="776.1" y="506.9" width="23.8" height="81.6" rx="11.9" fill="url(#cp)"/><rect x="779.5" y="522.9" width="17" height="62.0" rx="8.5" fill="url(#cpi)" opacity="0.93"/><text transform="translate(780.45 616.10) scale(0.8000 1)" font-size="16.0" fill="#464b5c" font-weight="bold" letter-spacing="0.953" stroke="#464b5c" stroke-width="0.5">06</text>
<rect x="815.6" y="511" width="23" height="79" rx="11.5" fill="#7a35d8" opacity="0.55" filter="url(#cglow)"/><rect x="813.9" y="506.9" width="23.8" height="81.6" rx="11.9" fill="url(#cp)"/><rect x="817.3" y="530.9" width="17" height="54.0" rx="8.5" fill="url(#cpi)" opacity="0.93"/><text transform="translate(818.29 616.10) scale(0.8000 1)" font-size="16.0" fill="#464b5c" font-weight="bold" letter-spacing="0.953" stroke="#464b5c" stroke-width="0.5">07</text>
<rect x="853.4" y="511" width="23" height="79" rx="11.5" fill="#7a35d8" opacity="0.55" filter="url(#cglow)"/><rect x="851.7" y="506.9" width="23.8" height="81.6" rx="11.9" fill="url(#cp)"/><rect x="855.1" y="541.4" width="17" height="43.5" rx="8.5" fill="url(#cpi)" opacity="0.93"/><text transform="translate(856.13 616.10) scale(0.8000 1)" font-size="16.0" fill="#464b5c" font-weight="bold" letter-spacing="0.953" stroke="#464b5c" stroke-width="0.5">08</text>
<rect x="891.3" y="511" width="23" height="79" rx="11.5" fill="#7a35d8" opacity="0.55" filter="url(#cglow)"/><rect x="889.6" y="506.9" width="23.8" height="81.6" rx="11.9" fill="url(#cp)"/><rect x="893.0" y="526.6" width="17" height="58.3" rx="8.5" fill="url(#cpi)" opacity="0.93"/><text transform="translate(893.97 616.10) scale(0.8000 1)" font-size="16.0" fill="#464b5c" font-weight="bold" letter-spacing="0.953" stroke="#464b5c" stroke-width="0.5">09</text>
<rect x="929.1" y="511" width="23" height="79" rx="11.5" fill="#7a35d8" opacity="0.55" filter="url(#cglow)"/><rect x="927.4" y="506.9" width="23.8" height="81.6" rx="11.9" fill="url(#cp)"/><rect x="930.8" y="546.0" width="17" height="38.9" rx="8.5" fill="url(#cpi)" opacity="0.93"/><text transform="translate(931.81 616.10) scale(0.8000 1)" font-size="16.0" fill="#464b5c" font-weight="bold" letter-spacing="0.953" stroke="#464b5c" stroke-width="0.5">10</text>
<text transform="translate(587.00 637.40) scale(0.7600 1)" font-size="5.9" fill="#a6aab8" font-weight="bold" letter-spacing="0.429" stroke="#a6aab8" stroke-width="0.15">CHORO VOCIBUS ADOLE SCENS QUI CU NE EUM PRIMIST RITANI, AN FERRI LATINE USU EX DUO DUO DUIS WISI EA APEIRIAN DES ET AT SEA</text>
<text transform="translate(587.00 644.20) scale(0.7600 1)" font-size="5.9" fill="#a6aab8" font-weight="bold" letter-spacing="0.473" stroke="#a6aab8" stroke-width="0.15">FACETE TRAC TATOS DUO DUIS WISI EA ANTIO PAM SCRIPSERIT REPUNDAE TOLLIT</text>

<!-- equalizer -->
<rect x="1016.0" y="584.9" width="20.8" height="2.5" rx="0.6" fill="#5a2fa9"/><rect x="1016.0" y="579.9" width="20.8" height="2.5" rx="0.6" fill="#6135b7"/><rect x="1016.0" y="574.9" width="20.8" height="2.5" rx="0.6" fill="#693bc7"/><rect x="1016.0" y="569.9" width="20.8" height="2.5" rx="0.6" fill="#7345db"/><rect x="1016.0" y="564.9" width="20.8" height="2.5" rx="0.6" fill="#7b4ae0"/><rect x="1016.0" y="559.9" width="20.8" height="2.5" rx="0.6" fill="#8a50da"/><rect x="1016.0" y="554.9" width="20.8" height="2.5" rx="0.6" fill="#cf60d2"/><rect x="1016.0" y="549.9" width="20.8" height="2.5" rx="0.6" fill="#e668d9"/><rect x="1016.0" y="544.9" width="20.8" height="2.5" rx="0.6" fill="#ea70cf"/><rect x="1016.0" y="530.0" width="20.8" height="2.4" rx="0.6" fill="#ffffff"/>
<text transform="translate(1019.00 616.80) scale(0.8000 1)" font-size="14.2" fill="#3c4150" letter-spacing="2.205">06</text>
<rect x="1047.9" y="584.9" width="20.8" height="2.5" rx="0.6" fill="#5a2fa9"/><rect x="1047.9" y="579.9" width="20.8" height="2.5" rx="0.6" fill="#6135b7"/><rect x="1047.9" y="574.9" width="20.8" height="2.5" rx="0.6" fill="#693bc7"/><rect x="1047.9" y="569.9" width="20.8" height="2.5" rx="0.6" fill="#7345db"/><rect x="1047.9" y="564.9" width="20.8" height="2.5" rx="0.6" fill="#7b4ae0"/><rect x="1047.9" y="559.9" width="20.8" height="2.5" rx="0.6" fill="#8a50da"/><rect x="1047.9" y="554.9" width="20.8" height="2.5" rx="0.6" fill="#cf60d2"/><rect x="1047.9" y="549.9" width="20.8" height="2.5" rx="0.6" fill="#e668d9"/><rect x="1047.9" y="544.9" width="20.8" height="2.5" rx="0.6" fill="#ea70cf"/><rect x="1047.9" y="539.9" width="20.8" height="2.5" rx="0.6" fill="#e26b93"/><rect x="1047.9" y="535.0" width="20.8" height="2.5" rx="0.6" fill="#e1617d"/><rect x="1047.9" y="530.0" width="20.8" height="2.5" rx="0.6" fill="#da5271"/><rect x="1047.9" y="525.0" width="20.8" height="2.5" rx="0.6" fill="#d9415a"/><rect x="1047.9" y="520.0" width="20.8" height="2.5" rx="0.6" fill="#e03849"/><rect x="1047.9" y="505.1" width="20.8" height="2.4" rx="0.6" fill="#ffffff"/>
<text transform="translate(1050.88 616.80) scale(0.8000 1)" font-size="14.2" fill="#3c4150" letter-spacing="2.205">07</text>
<rect x="1079.8" y="584.9" width="20.8" height="2.5" rx="0.6" fill="#5a2fa9"/><rect x="1079.8" y="579.9" width="20.8" height="2.5" rx="0.6" fill="#6135b7"/><rect x="1079.8" y="574.9" width="20.8" height="2.5" rx="0.6" fill="#693bc7"/><rect x="1079.8" y="569.9" width="20.8" height="2.5" rx="0.6" fill="#7345db"/><rect x="1079.8" y="564.9" width="20.8" height="2.5" rx="0.6" fill="#7b4ae0"/><rect x="1079.8" y="559.9" width="20.8" height="2.5" rx="0.6" fill="#8a50da"/><rect x="1079.8" y="554.9" width="20.8" height="2.5" rx="0.6" fill="#cf60d2"/><rect x="1079.8" y="540.0" width="20.8" height="2.4" rx="0.6" fill="#ffffff"/>
<text transform="translate(1082.76 616.80) scale(0.8000 1)" font-size="14.2" fill="#3c4150" letter-spacing="2.205">08</text>
<rect x="1111.6" y="584.9" width="20.8" height="2.5" rx="0.6" fill="#5a2fa9"/><rect x="1111.6" y="579.9" width="20.8" height="2.5" rx="0.6" fill="#6135b7"/><rect x="1111.6" y="574.9" width="20.8" height="2.5" rx="0.6" fill="#693bc7"/><rect x="1111.6" y="569.9" width="20.8" height="2.5" rx="0.6" fill="#7345db"/><rect x="1111.6" y="564.9" width="20.8" height="2.5" rx="0.6" fill="#7b4ae0"/><rect x="1111.6" y="559.9" width="20.8" height="2.5" rx="0.6" fill="#8a50da"/><rect x="1111.6" y="554.9" width="20.8" height="2.5" rx="0.6" fill="#cf60d2"/><rect x="1111.6" y="549.9" width="20.8" height="2.5" rx="0.6" fill="#e668d9"/><rect x="1111.6" y="544.9" width="20.8" height="2.5" rx="0.6" fill="#ea70cf"/><rect x="1111.6" y="539.9" width="20.8" height="2.5" rx="0.6" fill="#e26b93"/><rect x="1111.6" y="535.0" width="20.8" height="2.5" rx="0.6" fill="#e1617d"/><rect x="1111.6" y="520.0" width="20.8" height="2.4" rx="0.6" fill="#ffffff"/>
<text transform="translate(1114.64 616.80) scale(0.8000 1)" font-size="14.2" fill="#3c4150" letter-spacing="2.205">09</text>
<rect x="1143.5" y="584.9" width="20.8" height="2.5" rx="0.6" fill="#5a2fa9"/><rect x="1143.5" y="579.9" width="20.8" height="2.5" rx="0.6" fill="#6135b7"/><rect x="1143.5" y="574.9" width="20.8" height="2.5" rx="0.6" fill="#693bc7"/><rect x="1143.5" y="569.9" width="20.8" height="2.5" rx="0.6" fill="#7345db"/><rect x="1143.5" y="564.9" width="20.8" height="2.5" rx="0.6" fill="#7b4ae0"/><rect x="1143.5" y="559.9" width="20.8" height="2.5" rx="0.6" fill="#8a50da"/><rect x="1143.5" y="554.9" width="20.8" height="2.5" rx="0.6" fill="#cf60d2"/><rect x="1143.5" y="549.9" width="20.8" height="2.5" rx="0.6" fill="#e668d9"/><rect x="1143.5" y="544.9" width="20.8" height="2.5" rx="0.6" fill="#ea70cf"/><rect x="1143.5" y="539.9" width="20.8" height="2.5" rx="0.6" fill="#e26b93"/><rect x="1143.5" y="535.0" width="20.8" height="2.5" rx="0.6" fill="#e1617d"/><rect x="1143.5" y="530.0" width="20.8" height="2.5" rx="0.6" fill="#da5271"/><rect x="1143.5" y="525.0" width="20.8" height="2.5" rx="0.6" fill="#d9415a"/><rect x="1143.5" y="520.0" width="20.8" height="2.5" rx="0.6" fill="#e03849"/><rect x="1143.5" y="515.0" width="20.8" height="2.5" rx="0.6" fill="#e13142"/><rect x="1143.5" y="510.0" width="20.8" height="2.5" rx="0.6" fill="#e13849"/><rect x="1143.5" y="495.1" width="20.8" height="2.4" rx="0.6" fill="#ffffff"/>
<text transform="translate(1147.97 616.80) scale(0.7000 1)" font-size="14.2" fill="#3c4150" letter-spacing="0.633">10</text>
<text transform="translate(1016.70 637.40) scale(0.7600 1)" font-size="5.9" fill="#a6aab8" font-weight="bold" letter-spacing="0.473" stroke="#a6aab8" stroke-width="0.15">DUO DUIS WISI EA APEIRIAN DES ET AT SEA</text>

<!-- bottomcurve -->
<defs>
<pattern id="dots2" x="115.5" y="686.7" width="10" height="10" patternUnits="userSpaceOnUse"><circle cx="5" cy="5" r="1.5" fill="#ffffff" fill-opacity="0.06"/></pattern>
<linearGradient id="bcf" gradientUnits="userSpaceOnUse" x1="0" y1="730" x2="0" y2="783"><stop offset="0" stop-color="#b444c0" stop-opacity="0.46"/><stop offset="0.5" stop-color="#8a36a8" stop-opacity="0.24"/><stop offset="1" stop-color="#5a2a80" stop-opacity="0"/></linearGradient>
<linearGradient id="bpg" x1="0" y1="0" x2="0" y2="1"><stop offset="0" stop-color="#6b54d0"/><stop offset="1" stop-color="#5c43bd"/></linearGradient>
<g id="bpin"><circle r="10.5"/><path d="M-4.2,9.2L0,13.2L4.2,9.2Z"/></g>
</defs>
<rect x="115.5" y="686.7" width="850" height="100" fill="url(#dots2)"/>
<path d="M119.5,780.4C120.8,779.0 124.3,774.8 127.0,772.0C129.7,769.2 132.4,766.0 135.4,763.8C138.4,761.6 141.8,759.8 145.0,758.6C148.2,757.4 151.6,756.7 154.8,756.7C158.0,756.7 160.8,757.6 164.0,758.8C167.2,760.0 170.8,762.1 174.3,763.8C177.8,765.5 181.5,767.5 185.0,769.0C188.5,770.5 192.0,772.5 195.5,772.6C199.0,772.7 202.4,771.0 206.0,769.5C209.6,768.0 213.3,765.5 216.8,763.8C220.3,762.1 223.5,760.4 227.0,759.3C230.5,758.2 234.7,757.4 238.0,757.4C241.3,757.4 244.1,758.4 247.0,759.2C249.9,760.0 253.0,761.1 255.7,762.0C258.4,762.9 260.6,763.8 263.0,764.3C265.4,764.8 267.6,765.2 269.9,764.8C272.2,764.4 274.6,763.4 277.0,762.0C279.4,760.6 281.9,758.9 284.0,756.7C286.1,754.5 287.9,751.4 289.5,749.0C291.1,746.6 292.6,744.1 293.9,742.5C295.2,740.9 296.3,739.9 297.5,739.2C298.7,738.5 299.8,738.2 301.0,738.3C302.2,738.4 303.5,739.0 304.8,740.0C306.1,741.0 307.3,742.5 308.8,744.3C310.3,746.1 312.2,748.9 314.0,751.0C315.8,753.1 317.4,755.1 319.4,756.7C321.4,758.3 323.6,759.5 326.0,760.5C328.4,761.5 330.0,762.3 333.5,762.7C337.0,763.1 342.3,763.0 347.0,763.0C351.7,763.0 357.5,762.5 361.8,762.7C366.1,762.9 369.4,763.5 373.0,764.3C376.6,765.1 379.6,766.1 383.1,767.3C386.6,768.5 390.5,770.3 394.0,771.5C397.5,772.7 401.1,774.2 404.3,774.4C407.5,774.6 410.1,773.7 413.0,772.5C415.9,771.3 419.0,769.6 422.0,767.3C425.0,765.0 428.1,761.5 431.0,758.5C433.9,755.5 436.9,752.0 439.7,749.6C442.5,747.2 445.1,745.5 448.0,744.3C450.9,743.1 454.4,742.5 457.4,742.5C460.4,742.5 463.1,743.6 466.0,744.6C468.9,745.6 472.4,747.4 475.1,748.6C477.8,749.8 479.6,751.1 482.0,752.0C484.4,752.9 486.5,754.0 489.2,753.9C491.9,753.8 495.1,752.8 498.0,751.5C500.9,750.2 504.3,748.2 506.9,746.1C509.5,744.0 511.4,741.1 513.5,739.0C515.6,736.9 517.7,734.8 519.3,733.7C520.9,732.6 521.8,732.5 523.0,732.2C524.2,731.9 524.9,731.6 526.4,731.9C527.9,732.2 529.9,732.8 532.0,734.0C534.1,735.2 536.8,736.9 538.8,739.0C540.8,741.1 542.2,743.9 544.0,746.5C545.8,749.1 547.6,752.2 549.4,754.9C551.2,757.6 553.2,760.4 555.0,762.5C556.8,764.6 558.5,766.2 560.0,767.3C561.5,768.4 562.6,768.9 564.0,769.3C565.4,769.7 566.1,770.0 568.3,769.8C570.5,769.5 574.0,768.6 577.0,767.8C580.0,767.0 583.0,765.7 586.0,764.8C589.0,763.9 592.0,763.1 595.0,762.6C598.0,762.1 600.8,761.8 603.7,762.0C606.6,762.2 609.5,763.1 612.5,764.0C615.5,764.9 617.8,766.1 621.4,767.3C625.0,768.5 629.9,770.2 634.0,771.2C638.1,772.2 642.2,773.2 646.2,773.3C650.2,773.4 653.9,772.5 658.0,771.8C662.1,771.1 667.2,769.8 670.9,769.1C674.6,768.4 677.0,767.9 680.0,767.6C683.0,767.3 685.8,767.1 688.6,767.3C691.4,767.5 694.0,768.0 697.0,768.6C700.0,769.2 703.0,770.0 706.3,770.9C709.6,771.8 713.5,773.1 717.0,773.8C720.5,774.5 724.0,775.3 727.5,775.1C731.0,774.9 734.5,774.1 738.0,772.8C741.5,771.5 745.5,769.6 748.8,767.3C752.0,765.0 754.5,762.0 757.5,759.0C760.5,756.0 763.6,752.2 766.5,749.6C769.4,747.0 772.0,745.1 775.0,743.5C778.0,741.9 781.8,740.8 784.2,740.1C786.6,739.4 787.7,739.4 789.5,739.2C791.3,739.0 793.0,738.9 794.8,739.0C796.5,739.1 798.2,739.4 800.0,740.0C801.8,740.6 803.3,740.9 805.4,742.5C807.5,744.1 810.1,747.1 812.5,749.5C814.9,751.9 816.9,754.5 819.5,756.7C822.1,758.9 825.0,761.0 828.0,762.5C831.0,764.0 833.7,765.1 837.2,765.5C840.7,765.9 844.9,765.1 849.0,764.6C853.1,764.1 857.8,762.7 862.0,762.7C866.2,762.7 869.9,763.8 874.0,764.6C878.1,765.4 883.0,767.2 886.8,767.3C890.6,767.4 893.5,766.2 897.0,765.0C900.5,763.8 904.7,761.5 908.0,760.2C911.3,758.9 914.0,757.7 917.0,757.0C920.0,756.3 922.8,755.9 925.7,756.0C928.6,756.1 931.5,756.6 934.5,757.5C937.5,758.4 940.8,759.8 943.4,761.3C946.0,762.8 947.9,764.6 950.0,766.5C952.1,768.4 954.1,770.9 955.8,772.6C957.5,774.4 958.6,775.5 960.0,777.0C961.4,778.5 963.2,780.8 963.9,781.5L963.9,783L119.5,783Z" fill="url(#bcf)"/>
<path d="M119.5,780.4C120.8,779.0 124.3,774.8 127.0,772.0C129.7,769.2 132.4,766.0 135.4,763.8C138.4,761.6 141.8,759.8 145.0,758.6C148.2,757.4 151.6,756.7 154.8,756.7C158.0,756.7 160.8,757.6 164.0,758.8C167.2,760.0 170.8,762.1 174.3,763.8C177.8,765.5 181.5,767.5 185.0,769.0C188.5,770.5 192.0,772.5 195.5,772.6C199.0,772.7 202.4,771.0 206.0,769.5C209.6,768.0 213.3,765.5 216.8,763.8C220.3,762.1 223.5,760.4 227.0,759.3C230.5,758.2 234.7,757.4 238.0,757.4C241.3,757.4 244.1,758.4 247.0,759.2C249.9,760.0 253.0,761.1 255.7,762.0C258.4,762.9 260.6,763.8 263.0,764.3C265.4,764.8 267.6,765.2 269.9,764.8C272.2,764.4 274.6,763.4 277.0,762.0C279.4,760.6 281.9,758.9 284.0,756.7C286.1,754.5 287.9,751.4 289.5,749.0C291.1,746.6 292.6,744.1 293.9,742.5C295.2,740.9 296.3,739.9 297.5,739.2C298.7,738.5 299.8,738.2 301.0,738.3C302.2,738.4 303.5,739.0 304.8,740.0C306.1,741.0 307.3,742.5 308.8,744.3C310.3,746.1 312.2,748.9 314.0,751.0C315.8,753.1 317.4,755.1 319.4,756.7C321.4,758.3 323.6,759.5 326.0,760.5C328.4,761.5 330.0,762.3 333.5,762.7C337.0,763.1 342.3,763.0 347.0,763.0C351.7,763.0 357.5,762.5 361.8,762.7C366.1,762.9 369.4,763.5 373.0,764.3C376.6,765.1 379.6,766.1 383.1,767.3C386.6,768.5 390.5,770.3 394.0,771.5C397.5,772.7 401.1,774.2 404.3,774.4C407.5,774.6 410.1,773.7 413.0,772.5C415.9,771.3 419.0,769.6 422.0,767.3C425.0,765.0 428.1,761.5 431.0,758.5C433.9,755.5 436.9,752.0 439.7,749.6C442.5,747.2 445.1,745.5 448.0,744.3C450.9,743.1 454.4,742.5 457.4,742.5C460.4,742.5 463.1,743.6 466.0,744.6C468.9,745.6 472.4,747.4 475.1,748.6C477.8,749.8 479.6,751.1 482.0,752.0C484.4,752.9 486.5,754.0 489.2,753.9C491.9,753.8 495.1,752.8 498.0,751.5C500.9,750.2 504.3,748.2 506.9,746.1C509.5,744.0 511.4,741.1 513.5,739.0C515.6,736.9 517.7,734.8 519.3,733.7C520.9,732.6 521.8,732.5 523.0,732.2C524.2,731.9 524.9,731.6 526.4,731.9C527.9,732.2 529.9,732.8 532.0,734.0C534.1,735.2 536.8,736.9 538.8,739.0C540.8,741.1 542.2,743.9 544.0,746.5C545.8,749.1 547.6,752.2 549.4,754.9C551.2,757.6 553.2,760.4 555.0,762.5C556.8,764.6 558.5,766.2 560.0,767.3C561.5,768.4 562.6,768.9 564.0,769.3C565.4,769.7 566.1,770.0 568.3,769.8C570.5,769.5 574.0,768.6 577.0,767.8C580.0,767.0 583.0,765.7 586.0,764.8C589.0,763.9 592.0,763.1 595.0,762.6C598.0,762.1 600.8,761.8 603.7,762.0C606.6,762.2 609.5,763.1 612.5,764.0C615.5,764.9 617.8,766.1 621.4,767.3C625.0,768.5 629.9,770.2 634.0,771.2C638.1,772.2 642.2,773.2 646.2,773.3C650.2,773.4 653.9,772.5 658.0,771.8C662.1,771.1 667.2,769.8 670.9,769.1C674.6,768.4 677.0,767.9 680.0,767.6C683.0,767.3 685.8,767.1 688.6,767.3C691.4,767.5 694.0,768.0 697.0,768.6C700.0,769.2 703.0,770.0 706.3,770.9C709.6,771.8 713.5,773.1 717.0,773.8C720.5,774.5 724.0,775.3 727.5,775.1C731.0,774.9 734.5,774.1 738.0,772.8C741.5,771.5 745.5,769.6 748.8,767.3C752.0,765.0 754.5,762.0 757.5,759.0C760.5,756.0 763.6,752.2 766.5,749.6C769.4,747.0 772.0,745.1 775.0,743.5C778.0,741.9 781.8,740.8 784.2,740.1C786.6,739.4 787.7,739.4 789.5,739.2C791.3,739.0 793.0,738.9 794.8,739.0C796.5,739.1 798.2,739.4 800.0,740.0C801.8,740.6 803.3,740.9 805.4,742.5C807.5,744.1 810.1,747.1 812.5,749.5C814.9,751.9 816.9,754.5 819.5,756.7C822.1,758.9 825.0,761.0 828.0,762.5C831.0,764.0 833.7,765.1 837.2,765.5C840.7,765.9 844.9,765.1 849.0,764.6C853.1,764.1 857.8,762.7 862.0,762.7C866.2,762.7 869.9,763.8 874.0,764.6C878.1,765.4 883.0,767.2 886.8,767.3C890.6,767.4 893.5,766.2 897.0,765.0C900.5,763.8 904.7,761.5 908.0,760.2C911.3,758.9 914.0,757.7 917.0,757.0C920.0,756.3 922.8,755.9 925.7,756.0C928.6,756.1 931.5,756.6 934.5,757.5C937.5,758.4 940.8,759.8 943.4,761.3C946.0,762.8 947.9,764.6 950.0,766.5C952.1,768.4 954.1,770.9 955.8,772.6C957.5,774.4 958.6,775.5 960.0,777.0C961.4,778.5 963.2,780.8 963.9,781.5" fill="none" stroke="#f46fe0" stroke-width="2.3" stroke-linecap="round" stroke-linejoin="round"/>
<use href="#bpin" x="156.6" y="732.3" fill="url(#bpg)"/><text transform="translate(151.30 735.90) scale(0.8600 1)" font-size="10.0" fill="#ffffff" font-weight="bold" letter-spacing="1.202">34</text>
<use href="#bpin" x="239.1" y="731.2" fill="url(#bpg)"/><text transform="translate(233.80 734.80) scale(0.8600 1)" font-size="10.0" fill="#ffffff" font-weight="bold" letter-spacing="1.202">25</text>
<use href="#bpin" x="299.9" y="707.9" fill="url(#bpg)"/><text transform="translate(294.60 711.50) scale(0.8600 1)" font-size="10.0" fill="#ffffff" font-weight="bold" letter-spacing="1.202">42</text>
<use href="#bpin" x="371.4" y="735.1" fill="url(#bpg)"/><text transform="translate(366.10 738.70) scale(0.8600 1)" font-size="10.0" fill="#ffffff" font-weight="bold" letter-spacing="1.202">22</text>
<use href="#bpin" x="456.7" y="716.0" fill="url(#bpg)"/><text transform="translate(451.40 719.60) scale(0.8600 1)" font-size="10.0" fill="#ffffff" font-weight="bold" letter-spacing="1.202">38</text>
<use href="#bpin" x="527.1" y="702.6" fill="url(#bpg)"/><text transform="translate(521.80 706.20) scale(0.8600 1)" font-size="10.0" fill="#ffffff" font-weight="bold" letter-spacing="1.202">51</text>
<use href="#bpin" x="603.0" y="734.0" fill="url(#bpg)"/><text transform="translate(598.40 737.60) scale(0.8600 1)" font-size="10.0" fill="#ffffff" font-weight="bold" letter-spacing="-0.426">19</text>
<use href="#bpin" x="683.3" y="741.8" fill="url(#bpg)"/><text transform="translate(678.70 745.40) scale(0.8600 1)" font-size="10.0" fill="#ffffff" font-weight="bold" letter-spacing="-0.426">17</text>
<use href="#bpin" x="788.4" y="709.3" fill="url(#bpg)"/><text transform="translate(783.10 712.90) scale(0.8600 1)" font-size="10.0" fill="#ffffff" font-weight="bold" letter-spacing="1.202">47</text>
<use href="#bpin" x="862.0" y="737.6" fill="url(#bpg)"/><text transform="translate(856.70 741.20) scale(0.8600 1)" font-size="10.0" fill="#ffffff" font-weight="bold" letter-spacing="1.202">22</text>
<use href="#bpin" x="931.7" y="730.5" fill="url(#bpg)"/><text transform="translate(926.40 734.10) scale(0.8600 1)" font-size="10.0" fill="#ffffff" font-weight="bold" letter-spacing="1.202">34</text>

<!-- thinbars -->
<defs>
<linearGradient id="tb" x1="0" y1="0" x2="0" y2="1"><stop offset="0" stop-color="#3dbcff"/><stop offset="0.25" stop-color="#3f9ff4"/><stop offset="0.55" stop-color="#5a68de"/><stop offset="0.82" stop-color="#733ac9"/><stop offset="1" stop-color="#7a34c4"/></linearGradient>
<filter id="tglow" x="-150%" y="-10%" width="400%" height="120%"><feGaussianBlur stdDeviation="1.6"/></filter>
</defs>
<rect x="1010.4" y="684.2" width="4.4" height="81.1" rx="2.2" fill="#252a36"/><text transform="translate(1006.50 784.80) scale(0.8600 1)" font-size="11.4" fill="#ffffff" letter-spacing="1.505" stroke="#fff" stroke-width="0.2">01</text>
<rect x="1023.1" y="684.2" width="4.4" height="81.1" rx="2.2" fill="#252a36"/><rect x="1022.6" y="726.2" width="5.4" height="39.4" rx="2.7" fill="url(#tb)" opacity="0.5" filter="url(#tglow)"/><rect x="1023.0" y="726.2" width="4.6" height="39.4" rx="2.3" fill="url(#tb)"/>
<rect x="1035.8" y="684.2" width="4.4" height="81.1" rx="2.2" fill="#252a36"/><rect x="1035.3" y="727.4" width="5.4" height="38.2" rx="2.7" fill="url(#tb)" opacity="0.5" filter="url(#tglow)"/><rect x="1035.7" y="727.4" width="4.6" height="38.2" rx="2.3" fill="url(#tb)"/><text transform="translate(1031.90 784.80) scale(0.8600 1)" font-size="11.4" fill="#ffffff" letter-spacing="1.505" stroke="#fff" stroke-width="0.2">03</text>
<rect x="1048.5" y="684.2" width="4.4" height="81.1" rx="2.2" fill="#252a36"/><rect x="1048.0" y="717.2" width="5.4" height="48.4" rx="2.7" fill="url(#tb)" opacity="0.5" filter="url(#tglow)"/><rect x="1048.4" y="717.2" width="4.6" height="48.4" rx="2.3" fill="url(#tb)"/>
<rect x="1061.2" y="684.2" width="4.4" height="81.1" rx="2.2" fill="#252a36"/><rect x="1060.7" y="701.0" width="5.4" height="64.6" rx="2.7" fill="url(#tb)" opacity="0.5" filter="url(#tglow)"/><rect x="1061.1" y="701.0" width="4.6" height="64.6" rx="2.3" fill="url(#tb)"/><text transform="translate(1057.30 784.80) scale(0.8600 1)" font-size="11.4" fill="#ffffff" letter-spacing="1.505" stroke="#fff" stroke-width="0.2">05</text>
<rect x="1073.9" y="684.2" width="4.4" height="81.1" rx="2.2" fill="#252a36"/><rect x="1073.4" y="693.4" width="5.4" height="72.2" rx="2.7" fill="url(#tb)" opacity="0.5" filter="url(#tglow)"/><rect x="1073.8" y="693.4" width="4.6" height="72.2" rx="2.3" fill="url(#tb)"/>
<rect x="1086.6" y="684.2" width="4.4" height="81.1" rx="2.2" fill="#252a36"/><rect x="1086.1" y="701.0" width="5.4" height="64.6" rx="2.7" fill="url(#tb)" opacity="0.5" filter="url(#tglow)"/><rect x="1086.5" y="701.0" width="4.6" height="64.6" rx="2.3" fill="url(#tb)"/><text transform="translate(1082.70 784.80) scale(0.8600 1)" font-size="11.4" fill="#ffffff" letter-spacing="1.505" stroke="#fff" stroke-width="0.2">07</text>
<rect x="1099.3" y="684.2" width="4.4" height="81.1" rx="2.2" fill="#252a36"/><rect x="1098.8" y="712.3" width="5.4" height="53.3" rx="2.7" fill="url(#tb)" opacity="0.5" filter="url(#tglow)"/><rect x="1099.2" y="712.3" width="4.6" height="53.3" rx="2.3" fill="url(#tb)"/>
<rect x="1112.0" y="684.2" width="4.4" height="81.1" rx="2.2" fill="#252a36"/><rect x="1111.5" y="701.0" width="5.4" height="64.6" rx="2.7" fill="url(#tb)" opacity="0.5" filter="url(#tglow)"/><rect x="1111.9" y="701.0" width="4.6" height="64.6" rx="2.3" fill="url(#tb)"/><text transform="translate(1108.10 784.80) scale(0.8600 1)" font-size="11.4" fill="#ffffff" letter-spacing="1.505" stroke="#fff" stroke-width="0.2">09</text>
<rect x="1124.7" y="684.2" width="4.4" height="81.1" rx="2.2" fill="#252a36"/><rect x="1124.2" y="707.5" width="5.4" height="58.1" rx="2.7" fill="url(#tb)" opacity="0.5" filter="url(#tglow)"/><rect x="1124.6" y="707.5" width="4.6" height="58.1" rx="2.3" fill="url(#tb)"/>
<rect x="1137.4" y="684.2" width="4.4" height="81.1" rx="2.2" fill="#252a36"/><rect x="1136.9" y="720.9" width="5.4" height="44.7" rx="2.7" fill="url(#tb)" opacity="0.5" filter="url(#tglow)"/><rect x="1137.3" y="720.9" width="4.6" height="44.7" rx="2.3" fill="url(#tb)"/><text transform="translate(1134.80 784.80) scale(0.7200 1)" font-size="11.4" fill="#ffffff" letter-spacing="1.499" stroke="#fff" stroke-width="0.2">11</text>
<rect x="1150.1" y="684.2" width="4.4" height="81.1" rx="2.2" fill="#252a36"/><rect x="1149.6" y="713.6" width="5.4" height="52.0" rx="2.7" fill="url(#tb)" opacity="0.5" filter="url(#tglow)"/><rect x="1150.0" y="713.6" width="4.6" height="52.0" rx="2.3" fill="url(#tb)"/>
<rect x="1162.8" y="684.2" width="4.4" height="81.1" rx="2.2" fill="#252a36"/><rect x="1162.3" y="725.3" width="5.4" height="40.3" rx="2.7" fill="url(#tb)" opacity="0.5" filter="url(#tglow)"/><rect x="1162.7" y="725.3" width="4.6" height="40.3" rx="2.3" fill="url(#tb)"/><text transform="translate(1158.90 784.80) scale(0.8600 1)" font-size="11.4" fill="#ffffff" letter-spacing="1.505" stroke="#fff" stroke-width="0.2">13</text>

<!-- watermarks -->
<g fill="#fff" stroke="#fff" stroke-linejoin="round" font-weight="bold" opacity="0.56">
<text transform="translate(198.8 68.2) scale(0.625 1)" font-size="39" stroke-width="1.5" text-anchor="middle">a</text><text transform="translate(498.8 68.2) scale(0.625 1)" font-size="39" stroke-width="1.5" text-anchor="middle">a</text><text transform="translate(798.8 68.2) scale(0.625 1)" font-size="39" stroke-width="1.5" text-anchor="middle">a</text><text transform="translate(1098.8 68.2) scale(0.625 1)" font-size="39" stroke-width="1.5" text-anchor="middle">a</text>
<text transform="translate(48.8 198.2) scale(0.625 1)" font-size="39" stroke-width="1.5" text-anchor="middle">a</text><text transform="translate(348.8 198.2) scale(0.625 1)" font-size="39" stroke-width="1.5" text-anchor="middle">a</text><text transform="translate(648.8 198.2) scale(0.625 1)" font-size="39" stroke-width="1.5" text-anchor="middle">a</text><text transform="translate(948.8 198.2) scale(0.625 1)" font-size="39" stroke-width="1.5" text-anchor="middle">a</text><text transform="translate(1248.8 198.2) scale(0.625 1)" font-size="39" stroke-width="1.5" text-anchor="middle">a</text>
<text transform="translate(498.8 328.2) scale(0.625 1)" font-size="39" stroke-width="1.5" text-anchor="middle">a</text><text transform="translate(798.8 328.2) scale(0.625 1)" font-size="39" stroke-width="1.5" text-anchor="middle">a</text>
<text transform="translate(48.8 458.2) scale(0.625 1)" font-size="39" stroke-width="1.5" text-anchor="middle">a</text><text transform="translate(348.8 458.2) scale(0.625 1)" font-size="39" stroke-width="1.5" text-anchor="middle">a</text><text transform="translate(948.8 458.2) scale(0.625 1)" font-size="39" stroke-width="1.5" text-anchor="middle">a</text><text transform="translate(1248.8 458.2) scale(0.625 1)" font-size="39" stroke-width="1.5" text-anchor="middle">a</text>
<text transform="translate(198.8 588.2) scale(0.625 1)" font-size="39" stroke-width="1.5" text-anchor="middle">a</text><text transform="translate(498.8 588.2) scale(0.625 1)" font-size="39" stroke-width="1.5" text-anchor="middle">a</text><text transform="translate(798.8 588.2) scale(0.625 1)" font-size="39" stroke-width="1.5" text-anchor="middle">a</text><text transform="translate(1098.8 588.2) scale(0.625 1)" font-size="39" stroke-width="1.5" text-anchor="middle">a</text>
<text transform="translate(348.8 718.2) scale(0.625 1)" font-size="39" stroke-width="1.5" text-anchor="middle">a</text><text transform="translate(648.8 718.2) scale(0.625 1)" font-size="39" stroke-width="1.5" text-anchor="middle">a</text><text transform="translate(1248.8 718.2) scale(0.625 1)" font-size="39" stroke-width="1.5" text-anchor="middle">a</text>
<text transform="translate(198.8 848.2) scale(0.625 1)" font-size="39" stroke-width="1.5" text-anchor="middle">a</text><text transform="translate(498.8 848.2) scale(0.625 1)" font-size="39" stroke-width="1.5" text-anchor="middle">a</text><text transform="translate(798.8 848.2) scale(0.625 1)" font-size="39" stroke-width="1.5" text-anchor="middle">a</text><text transform="translate(1098.8 848.2) scale(0.625 1)" font-size="39" stroke-width="1.5" text-anchor="middle">a</text>
<text transform="translate(206.0 333.1) scale(0.615 1)" font-size="62" stroke-width="2.4" text-anchor="middle">a<tspan font-size="55" stroke-width="3.4">l</tspan>amy</text>
<text transform="translate(1095.0 333.1) scale(0.615 1)" font-size="62" stroke-width="2.4" text-anchor="middle">a<tspan font-size="55" stroke-width="3.4">l</tspan>amy</text>
<text transform="translate(650.0 462.8) scale(0.615 1)" font-size="62" stroke-width="2.4" text-anchor="middle">a<tspan font-size="55" stroke-width="3.4">l</tspan>amy</text>
<text transform="translate(48.5 722.6) scale(0.615 1)" font-size="62" stroke-width="2.4" text-anchor="middle">a<tspan font-size="55" stroke-width="3.4">l</tspan>amy</text>
<text transform="translate(945.0 722.6) scale(0.615 1)" font-size="62" stroke-width="2.4" text-anchor="middle">a<tspan font-size="55" stroke-width="3.4">l</tspan>amy</text>
</g>

<!-- footer -->
<text transform="translate(100.8 959.3) scale(0.618 1)" font-size="57.5" font-weight="bold" fill="#fff" stroke="#fff" stroke-width="2.3" stroke-linejoin="round" text-anchor="middle">a<tspan font-size="51" stroke-width="3.2">l</tspan>amy</text>
<text x="1250" y="936.9" font-size="13.7" fill="#f2f2f2" text-anchor="end" font-family="DejaVu Sans, sans-serif" textLength="133" lengthAdjust="spacingAndGlyphs">Image ID: 2BNC9GX</text>
<text x="1250" y="960.6" font-size="13.7" font-weight="bold" fill="#fff" text-anchor="end" font-family="DejaVu Sans, sans-serif" textLength="134.6" lengthAdjust="spacingAndGlyphs">www.alamy.com</text>

</svg>
</body></html>
